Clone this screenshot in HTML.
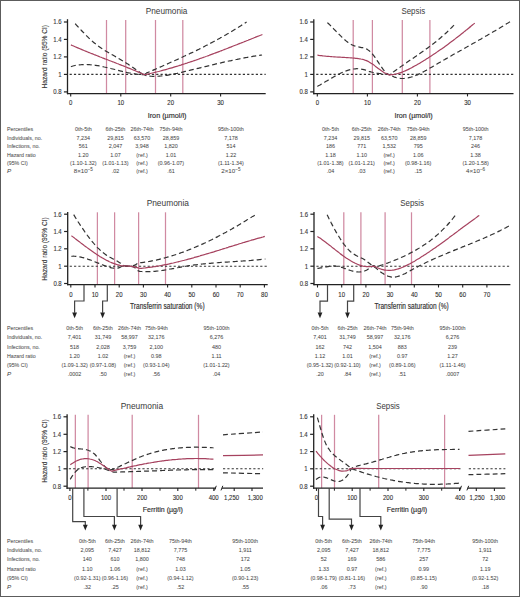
<!DOCTYPE html>
<html><head><meta charset="utf-8"><style>
html,body{margin:0;padding:0;background:#fff;}
body{width:520px;height:597px;overflow:hidden;}
svg{display:block;font-family:"Liberation Sans", sans-serif;}
</style></head><body>
<svg width="520" height="597" viewBox="0 0 520 597">
<rect x="0" y="0" width="520" height="597" fill="#fff"/>
<line x1="106.50" y1="20.00" x2="106.50" y2="93.60" stroke="#d08aa2" stroke-width="1.25"/>
<line x1="125.70" y1="20.00" x2="125.70" y2="93.60" stroke="#d08aa2" stroke-width="1.25"/>
<line x1="155.50" y1="20.00" x2="155.50" y2="93.60" stroke="#d08aa2" stroke-width="1.25"/>
<line x1="182.80" y1="20.00" x2="182.80" y2="93.60" stroke="#d08aa2" stroke-width="1.25"/>
<line x1="69.60" y1="74.40" x2="265.70" y2="74.40" stroke="#333" stroke-width="1.10" stroke-dasharray="2.2 2.13"/>
<path d="M75.2,23.7 C75.5,24.1 76.6,25.2 77.3,26.0 C78.0,26.8 78.7,27.5 79.4,28.3 C80.1,29.0 80.8,29.8 81.5,30.5 C82.2,31.3 82.9,32.0 83.6,32.7 C84.3,33.4 85.0,34.2 85.7,34.9 C86.4,35.6 87.0,36.3 87.7,36.9 C88.4,37.6 89.1,38.3 89.8,38.9 C90.5,39.6 91.2,40.2 91.9,40.9 C92.6,41.5 93.3,42.1 94.0,42.7 C94.7,43.3 95.4,43.8 96.1,44.4 C96.8,45.0 97.5,45.5 98.2,46.0 C98.9,46.5 99.6,47.0 100.3,47.5 C101.0,48.0 101.7,48.4 102.4,48.9 C103.1,49.4 103.8,49.8 104.5,50.2 C105.2,50.7 105.9,51.1 106.6,51.5 C107.3,51.9 108.0,52.3 108.7,52.7 C109.4,53.1 110.0,53.5 110.7,53.9 C111.4,54.3 112.1,54.7 112.8,55.1 C113.5,55.5 114.2,55.9 114.9,56.3 C115.6,56.7 116.3,57.1 117.0,57.5 C117.7,57.9 118.4,58.3 119.1,58.7 C119.8,59.1 120.5,59.5 121.2,59.9 C121.9,60.4 122.6,60.8 123.3,61.2 C124.0,61.6 124.7,62.1 125.4,62.5 C126.1,62.9 126.8,63.4 127.5,63.8 C128.2,64.3 128.9,64.7 129.6,65.2 C130.3,65.6 131.0,66.1 131.7,66.6 C132.4,67.1 133.0,67.5 133.7,68.0 C134.4,68.5 135.1,69.0 135.8,69.5 C136.5,70.0 137.2,70.4 137.9,70.9 C138.6,71.4 139.3,71.9 140.0,72.4 C140.7,72.8 141.4,73.3 142.1,73.8 C142.8,74.2 143.5,75.2 144.2,75.1 C144.9,75.0 145.6,73.6 146.2,73.2 C146.9,72.7 147.6,72.6 148.3,72.3 C149.0,72.0 149.7,71.7 150.3,71.4 C151.0,71.1 151.7,70.8 152.4,70.5 C153.1,70.2 153.8,69.9 154.4,69.6 C155.1,69.3 155.8,69.0 156.5,68.7 C157.2,68.4 157.9,68.1 158.5,67.8 C159.2,67.5 159.9,67.2 160.6,66.9 C161.3,66.6 161.9,66.3 162.6,66.0 C163.3,65.7 164.0,65.4 164.7,65.1 C165.4,64.8 166.0,64.5 166.7,64.2 C167.4,63.9 168.1,63.6 168.8,63.3 C169.5,63.0 170.1,62.7 170.8,62.3 C171.5,62.0 172.2,61.7 172.9,61.4 C173.6,61.1 174.2,60.8 174.9,60.5 C175.6,60.2 176.3,59.9 177.0,59.6 C177.7,59.3 178.3,59.0 179.0,58.6 C179.7,58.3 180.4,58.0 181.1,57.7 C181.7,57.4 182.4,57.1 183.1,56.8 C183.8,56.4 184.5,56.1 185.2,55.8 C185.8,55.5 186.5,55.2 187.2,54.9 C187.9,54.5 188.6,54.2 189.3,53.9 C189.9,53.6 190.6,53.2 191.3,52.9 C192.0,52.6 192.7,52.3 193.4,51.9 C194.0,51.6 194.7,51.3 195.4,50.9 C196.1,50.6 196.8,50.3 197.4,49.9 C198.1,49.6 198.8,49.3 199.5,48.9 C200.2,48.6 200.9,48.2 201.5,47.9 C202.2,47.6 202.9,47.2 203.6,46.9 C204.3,46.5 205.0,46.2 205.6,45.8 C206.3,45.5 207.0,45.1 207.7,44.8 C208.4,44.4 209.1,44.1 209.7,43.7 C210.4,43.3 211.1,43.0 211.8,42.6 C212.5,42.3 213.1,41.9 213.8,41.5 C214.5,41.2 215.2,40.8 215.9,40.4 C216.6,40.1 217.2,39.7 217.9,39.3 C218.6,38.9 219.3,38.6 220.0,38.2 C220.7,37.8 221.3,37.4 222.0,37.0 C222.7,36.6 223.4,36.3 224.1,35.9 C224.8,35.5 225.4,35.1 226.1,34.7 C226.8,34.3 227.5,33.9 228.2,33.5 C228.9,33.1 229.5,32.7 230.2,32.3 C230.9,31.9 231.6,31.5 232.3,31.1 C232.9,30.6 233.6,30.2 234.3,29.8 C235.0,29.4 235.7,29.0 236.4,28.6 C237.0,28.1 237.7,27.7 238.4,27.3 C239.1,26.8 239.8,26.4 240.5,26.0 C241.1,25.5 241.8,25.1 242.5,24.7 C243.2,24.2 243.9,23.8 244.6,23.3 C245.2,22.9 246.3,22.2 246.6,22.0" fill="none" stroke="#333" stroke-width="1.20" stroke-dasharray="5.0 3.0"/>
<path d="M70.9,66.6 C71.2,66.5 72.3,66.2 73.0,66.0 C73.7,65.9 74.4,65.7 75.1,65.5 C75.8,65.4 76.5,65.3 77.2,65.2 C77.9,65.1 78.6,65.0 79.3,64.9 C80.0,64.8 80.7,64.7 81.4,64.7 C82.1,64.6 82.8,64.6 83.5,64.6 C84.2,64.5 84.9,64.5 85.6,64.5 C86.3,64.5 87.0,64.5 87.7,64.6 C88.4,64.6 89.1,64.6 89.7,64.7 C90.4,64.7 91.1,64.8 91.8,64.9 C92.5,64.9 93.2,65.0 93.9,65.1 C94.6,65.2 95.3,65.3 96.0,65.4 C96.7,65.5 97.4,65.6 98.1,65.7 C98.8,65.8 99.5,66.0 100.2,66.1 C100.9,66.2 101.6,66.4 102.3,66.5 C103.0,66.7 103.7,66.8 104.4,67.0 C105.1,67.1 105.8,67.3 106.5,67.5 C107.2,67.6 107.9,67.8 108.6,68.0 C109.3,68.1 110.0,68.3 110.7,68.5 C111.4,68.6 112.1,68.8 112.8,69.0 C113.5,69.2 114.2,69.4 114.9,69.5 C115.6,69.7 116.3,69.9 117.0,70.1 C117.7,70.2 118.4,70.4 119.1,70.6 C119.8,70.8 120.5,70.9 121.2,71.1 C121.9,71.3 122.6,71.5 123.3,71.6 C124.0,71.8 124.7,72.0 125.4,72.1 C126.0,72.3 126.7,72.4 127.4,72.6 C128.1,72.7 128.8,72.9 129.5,73.0 C130.2,73.1 130.9,73.3 131.6,73.4 C132.3,73.5 133.0,73.6 133.7,73.7 C134.4,73.8 135.1,73.9 135.8,74.0 C136.5,74.1 137.2,74.2 137.9,74.3 C138.6,74.4 139.3,74.4 140.0,74.5 C140.7,74.5 141.4,74.6 142.1,74.6 C142.8,74.6 143.5,74.5 144.2,74.7 C144.9,74.8 145.6,75.5 146.3,75.7 C147.0,75.9 147.6,75.9 148.3,76.0 C149.0,76.1 149.7,76.1 150.4,76.2 C151.1,76.2 151.8,76.3 152.5,76.3 C153.2,76.3 153.8,76.3 154.5,76.3 C155.2,76.3 155.9,76.3 156.6,76.3 C157.3,76.3 158.0,76.2 158.7,76.2 C159.4,76.1 160.0,76.1 160.7,76.0 C161.4,76.0 162.1,75.9 162.8,75.8 C163.5,75.8 164.2,75.7 164.9,75.6 C165.6,75.5 166.2,75.4 166.9,75.3 C167.6,75.2 168.3,75.1 169.0,74.9 C169.7,74.8 170.4,74.7 171.1,74.6 C171.8,74.4 172.4,74.3 173.1,74.1 C173.8,74.0 174.5,73.9 175.2,73.7 C175.9,73.6 176.6,73.4 177.3,73.3 C178.0,73.1 178.6,72.9 179.3,72.8 C180.0,72.6 180.7,72.5 181.4,72.3 C182.1,72.1 182.8,72.0 183.5,71.8 C184.2,71.7 184.8,71.5 185.5,71.3 C186.2,71.2 186.9,71.0 187.6,70.8 C188.3,70.7 189.0,70.5 189.7,70.3 C190.4,70.2 191.0,70.0 191.7,69.8 C192.4,69.7 193.1,69.5 193.8,69.3 C194.5,69.2 195.2,69.0 195.9,68.8 C196.6,68.7 197.2,68.5 197.9,68.3 C198.6,68.1 199.3,68.0 200.0,67.8 C200.7,67.6 201.4,67.5 202.1,67.3 C202.8,67.1 203.4,67.0 204.1,66.8 C204.8,66.6 205.5,66.5 206.2,66.3 C206.9,66.1 207.6,66.0 208.3,65.8 C209.0,65.6 209.6,65.5 210.3,65.3 C211.0,65.1 211.7,65.0 212.4,64.8 C213.1,64.7 213.8,64.5 214.5,64.3 C215.2,64.2 215.8,64.0 216.5,63.8 C217.2,63.7 217.9,63.5 218.6,63.4 C219.3,63.2 220.0,63.0 220.7,62.9 C221.4,62.7 222.0,62.6 222.7,62.4 C223.4,62.2 224.1,62.1 224.8,61.9 C225.5,61.8 226.2,61.6 226.9,61.5 C227.6,61.3 228.2,61.2 228.9,61.0 C229.6,60.9 230.3,60.7 231.0,60.6 C231.7,60.4 232.4,60.3 233.1,60.1 C233.8,60.0 234.4,59.8 235.1,59.7 C235.8,59.6 236.5,59.4 237.2,59.3 C237.9,59.1 238.6,59.0 239.3,58.9 C240.0,58.7 240.6,58.6 241.3,58.5 C242.0,58.3 242.7,58.2 243.4,58.1 C244.1,57.9 244.8,57.8 245.5,57.7 C246.2,57.6 246.8,57.4 247.5,57.3 C248.2,57.2 248.9,57.1 249.6,56.9 C250.3,56.8 251.0,56.7 251.7,56.6 C252.4,56.5 253.0,56.4 253.7,56.2 C254.4,56.1 255.1,56.0 255.8,55.9 C256.5,55.8 257.2,55.7 257.9,55.6 C258.6,55.5 259.2,55.4 259.9,55.3 C260.6,55.2 261.7,55.1 262.0,55.0" fill="none" stroke="#333" stroke-width="1.20" stroke-dasharray="5.0 3.0"/>
<path d="M70.9,44.9 C71.2,45.0 72.3,45.5 73.0,45.8 C73.7,46.1 74.4,46.4 75.1,46.7 C75.8,47.0 76.5,47.3 77.2,47.6 C77.9,47.9 78.6,48.2 79.3,48.5 C80.0,48.8 80.7,49.1 81.4,49.4 C82.1,49.7 82.8,50.0 83.5,50.3 C84.2,50.6 84.9,50.8 85.6,51.1 C86.3,51.4 87.0,51.7 87.7,52.0 C88.4,52.3 89.1,52.5 89.7,52.8 C90.4,53.1 91.1,53.4 91.8,53.7 C92.5,53.9 93.2,54.2 93.9,54.5 C94.6,54.8 95.3,55.0 96.0,55.3 C96.7,55.6 97.4,55.9 98.1,56.1 C98.8,56.4 99.5,56.7 100.2,57.0 C100.9,57.2 101.6,57.5 102.3,57.8 C103.0,58.0 103.7,58.3 104.4,58.6 C105.1,58.9 105.8,59.1 106.5,59.4 C107.2,59.7 107.9,59.9 108.6,60.2 C109.3,60.5 110.0,60.8 110.7,61.0 C111.4,61.3 112.1,61.6 112.8,61.8 C113.5,62.1 114.2,62.4 114.9,62.6 C115.6,62.9 116.3,63.2 117.0,63.5 C117.7,63.7 118.4,64.0 119.1,64.3 C119.8,64.5 120.5,64.8 121.2,65.1 C121.9,65.4 122.6,65.6 123.3,65.9 C124.0,66.2 124.7,66.5 125.4,66.8 C126.0,67.0 126.7,67.3 127.4,67.6 C128.1,67.9 128.8,68.2 129.5,68.4 C130.2,68.7 130.9,69.0 131.6,69.3 C132.3,69.6 133.0,69.9 133.7,70.2 C134.4,70.4 135.1,70.7 135.8,71.0 C136.5,71.3 137.2,71.6 137.9,71.9 C138.6,72.2 139.3,72.5 140.0,72.8 C140.7,73.1 141.4,73.4 142.1,73.7 C142.8,74.0 143.5,74.5 144.2,74.6 C144.9,74.7 145.6,74.5 146.2,74.4 C146.9,74.3 147.6,74.1 148.3,74.0 C149.0,73.8 149.6,73.7 150.3,73.5 C151.0,73.4 151.7,73.2 152.4,73.0 C153.0,72.9 153.7,72.7 154.4,72.5 C155.1,72.4 155.7,72.2 156.4,72.0 C157.1,71.9 157.8,71.7 158.5,71.5 C159.1,71.3 159.8,71.2 160.5,71.0 C161.2,70.8 161.9,70.6 162.5,70.4 C163.2,70.3 163.9,70.1 164.6,69.9 C165.3,69.7 165.9,69.5 166.6,69.3 C167.3,69.1 168.0,68.9 168.7,68.7 C169.3,68.6 170.0,68.4 170.7,68.2 C171.4,68.0 172.1,67.8 172.7,67.6 C173.4,67.4 174.1,67.2 174.8,66.9 C175.4,66.7 176.1,66.5 176.8,66.3 C177.5,66.1 178.2,65.9 178.8,65.7 C179.5,65.5 180.2,65.3 180.9,65.1 C181.6,64.8 182.2,64.6 182.9,64.4 C183.6,64.2 184.3,64.0 185.0,63.7 C185.6,63.5 186.3,63.3 187.0,63.1 C187.7,62.8 188.4,62.6 189.0,62.4 C189.7,62.2 190.4,61.9 191.1,61.7 C191.8,61.5 192.4,61.2 193.1,61.0 C193.8,60.8 194.5,60.5 195.1,60.3 C195.8,60.1 196.5,59.8 197.2,59.6 C197.9,59.4 198.5,59.1 199.2,58.9 C199.9,58.6 200.6,58.4 201.3,58.2 C201.9,57.9 202.6,57.7 203.3,57.4 C204.0,57.2 204.7,56.9 205.3,56.7 C206.0,56.4 206.7,56.2 207.4,56.0 C208.1,55.7 208.7,55.5 209.4,55.2 C210.1,55.0 210.8,54.7 211.5,54.4 C212.1,54.2 212.8,53.9 213.5,53.7 C214.2,53.4 214.8,53.2 215.5,52.9 C216.2,52.7 216.9,52.4 217.6,52.1 C218.2,51.9 218.9,51.6 219.6,51.4 C220.3,51.1 221.0,50.9 221.6,50.6 C222.3,50.3 223.0,50.1 223.7,49.8 C224.4,49.5 225.0,49.3 225.7,49.0 C226.4,48.8 227.1,48.5 227.8,48.2 C228.4,48.0 229.1,47.7 229.8,47.4 C230.5,47.2 231.2,46.9 231.8,46.6 C232.5,46.4 233.2,46.1 233.9,45.8 C234.5,45.6 235.2,45.3 235.9,45.0 C236.6,44.8 237.3,44.5 237.9,44.2 C238.6,44.0 239.3,43.7 240.0,43.4 C240.7,43.1 241.3,42.9 242.0,42.6 C242.7,42.3 243.4,42.1 244.1,41.8 C244.7,41.5 245.4,41.3 246.1,41.0 C246.8,40.7 247.5,40.4 248.1,40.2 C248.8,39.9 249.5,39.6 250.2,39.4 C250.9,39.1 251.5,38.8 252.2,38.5 C252.9,38.3 253.6,38.0 254.2,37.7 C254.9,37.5 255.6,37.2 256.3,36.9 C257.0,36.7 257.6,36.4 258.3,36.1 C259.0,35.8 259.7,35.6 260.4,35.3 C261.0,35.0 262.1,34.6 262.4,34.5" fill="none" stroke="#a6425f" stroke-width="1.20" stroke-linejoin="round"/>
<line x1="67.50" y1="19.20" x2="67.50" y2="94.20" stroke="#222" stroke-width="1.30"/>
<line x1="63.90" y1="22.00" x2="67.50" y2="22.00" stroke="#222" stroke-width="1.20"/>
<text x="61.50" y="24.35" font-size="6.80" text-anchor="end" fill="#3a3a3a" textLength="8.32" lengthAdjust="spacingAndGlyphs" stroke="#333" stroke-width="0.12">1.6</text>
<line x1="63.90" y1="39.40" x2="67.50" y2="39.40" stroke="#222" stroke-width="1.20"/>
<text x="61.50" y="41.75" font-size="6.80" text-anchor="end" fill="#3a3a3a" textLength="8.32" lengthAdjust="spacingAndGlyphs" stroke="#333" stroke-width="0.12">1.4</text>
<line x1="63.90" y1="56.90" x2="67.50" y2="56.90" stroke="#222" stroke-width="1.20"/>
<text x="61.50" y="59.25" font-size="6.80" text-anchor="end" fill="#3a3a3a" textLength="8.32" lengthAdjust="spacingAndGlyphs" stroke="#333" stroke-width="0.12">1.2</text>
<line x1="63.90" y1="74.40" x2="67.50" y2="74.40" stroke="#222" stroke-width="1.20"/>
<text x="61.50" y="76.75" font-size="6.80" text-anchor="end" fill="#3a3a3a" textLength="3.33" lengthAdjust="spacingAndGlyphs" stroke="#333" stroke-width="0.12">1</text>
<line x1="63.90" y1="91.90" x2="67.50" y2="91.90" stroke="#222" stroke-width="1.20"/>
<text x="61.50" y="94.25" font-size="6.80" text-anchor="end" fill="#3a3a3a" textLength="8.32" lengthAdjust="spacingAndGlyphs" stroke="#333" stroke-width="0.12">0.8</text>
<line x1="66.90" y1="93.60" x2="265.70" y2="93.60" stroke="#222" stroke-width="1.30"/>
<line x1="70.70" y1="93.60" x2="70.70" y2="96.40" stroke="#222" stroke-width="1.10"/>
<text x="70.70" y="104.90" font-size="6.90" text-anchor="middle" fill="#2a2a2a" textLength="3.34" lengthAdjust="spacingAndGlyphs" stroke="#444" stroke-width="0.12">0</text>
<line x1="120.80" y1="93.60" x2="120.80" y2="96.40" stroke="#222" stroke-width="1.10"/>
<text x="120.80" y="104.90" font-size="6.90" text-anchor="middle" fill="#2a2a2a" textLength="6.68" lengthAdjust="spacingAndGlyphs" stroke="#444" stroke-width="0.12">10</text>
<line x1="170.70" y1="93.60" x2="170.70" y2="96.40" stroke="#222" stroke-width="1.10"/>
<text x="170.70" y="104.90" font-size="6.90" text-anchor="middle" fill="#2a2a2a" textLength="6.68" lengthAdjust="spacingAndGlyphs" stroke="#444" stroke-width="0.12">20</text>
<line x1="220.60" y1="93.60" x2="220.60" y2="96.40" stroke="#222" stroke-width="1.10"/>
<text x="220.60" y="104.90" font-size="6.90" text-anchor="middle" fill="#2a2a2a" textLength="6.68" lengthAdjust="spacingAndGlyphs" stroke="#444" stroke-width="0.12">30</text>
<text x="166.60" y="13.50" font-size="8.80" text-anchor="middle" fill="#3a3a3a" textLength="41.70" lengthAdjust="spacingAndGlyphs">Pneumonia</text>
<text x="167.10" y="117.70" font-size="7.70" text-anchor="middle" fill="#2a2a2a" textLength="38.80" lengthAdjust="spacingAndGlyphs" stroke="#444" stroke-width="0.18">Iron (&#181;mol/l)</text>
<text x="0" y="0" font-size="8.0" text-anchor="middle" fill="#3a3a3a" stroke="#333" stroke-width="0.12" textLength="63.4" lengthAdjust="spacingAndGlyphs" transform="translate(46.80,56.70) rotate(-90)">Hazard ratio (95% CI)</text>
<line x1="353.20" y1="20.00" x2="353.20" y2="93.60" stroke="#d08aa2" stroke-width="1.25"/>
<line x1="372.40" y1="20.00" x2="372.40" y2="93.60" stroke="#d08aa2" stroke-width="1.25"/>
<line x1="402.30" y1="20.00" x2="402.30" y2="93.60" stroke="#d08aa2" stroke-width="1.25"/>
<line x1="429.90" y1="20.00" x2="429.90" y2="93.60" stroke="#d08aa2" stroke-width="1.25"/>
<line x1="316.20" y1="74.40" x2="513.80" y2="74.40" stroke="#333" stroke-width="1.10" stroke-dasharray="2.2 2.13"/>
<path d="M327.4,22.6 C327.7,22.9 328.8,23.9 329.5,24.6 C330.2,25.3 330.9,25.9 331.6,26.7 C332.2,27.4 332.9,28.1 333.6,28.8 C334.3,29.5 335.0,30.2 335.7,30.9 C336.4,31.7 337.1,32.4 337.8,33.1 C338.5,33.8 339.2,34.5 339.9,35.2 C340.6,35.9 341.2,36.5 341.9,37.2 C342.6,37.9 343.3,38.5 344.0,39.1 C344.7,39.7 345.4,40.3 346.1,40.9 C346.8,41.4 347.5,42.0 348.2,42.5 C348.9,43.0 349.6,43.4 350.2,43.9 C350.9,44.3 351.6,44.7 352.3,45.0 C353.0,45.3 353.7,45.6 354.4,45.9 C355.1,46.1 355.8,46.3 356.5,46.5 C357.2,46.7 357.9,46.8 358.5,46.9 C359.2,47.1 359.9,47.2 360.6,47.3 C361.3,47.5 362.0,47.6 362.7,47.7 C363.4,47.9 364.1,48.0 364.8,48.3 C365.5,48.5 366.2,48.8 366.9,49.1 C367.5,49.5 368.2,49.9 368.9,50.5 C369.6,51.0 370.3,51.7 371.0,52.4 C371.7,53.1 372.4,53.9 373.1,54.8 C373.8,55.7 374.5,56.6 375.2,57.6 C375.9,58.6 376.5,59.6 377.2,60.6 C377.9,61.7 378.6,62.7 379.3,63.8 C380.0,64.8 380.7,65.9 381.4,66.9 C382.1,67.9 382.8,68.9 383.5,69.8 C384.2,70.7 384.9,71.5 385.5,72.2 C386.2,72.9 386.9,73.6 387.6,74.0 C388.3,74.4 389.0,75.0 389.7,74.8 C390.4,74.7 391.1,73.6 391.8,73.1 C392.5,72.5 393.2,72.0 394.0,71.5 C394.7,71.0 395.4,70.5 396.1,70.0 C396.8,69.5 397.5,68.9 398.2,68.4 C398.9,67.9 399.6,67.4 400.3,67.0 C401.0,66.5 401.7,66.0 402.5,65.5 C403.2,65.0 403.9,64.5 404.6,64.0 C405.3,63.5 406.0,63.0 406.7,62.6 C407.4,62.1 408.1,61.6 408.8,61.1 C409.5,60.6 410.2,60.1 411.0,59.7 C411.7,59.2 412.4,58.7 413.1,58.2 C413.8,57.7 414.5,57.3 415.2,56.8 C415.9,56.3 416.6,55.8 417.3,55.3 C418.0,54.8 418.8,54.3 419.5,53.8 C420.2,53.3 420.9,52.8 421.6,52.3 C422.3,51.8 423.0,51.3 423.7,50.8 C424.4,50.3 425.1,49.8 425.8,49.3 C426.5,48.8 427.3,48.3 428.0,47.7 C428.7,47.2 429.4,46.7 430.1,46.2 C430.8,45.6 431.5,45.1 432.2,44.5 C432.9,44.0 433.6,43.4 434.3,42.9 C435.1,42.3 435.8,41.8 436.5,41.2 C437.2,40.6 437.9,40.0 438.6,39.4 C439.3,38.9 440.0,38.3 440.7,37.7 C441.4,37.1 442.1,36.4 442.8,35.8 C443.6,35.2 444.3,34.6 445.0,33.9 C445.7,33.3 446.4,32.6 447.1,32.0 C447.8,31.3 448.5,30.6 449.2,29.9 C449.9,29.3 450.6,28.6 451.3,27.9 C452.1,27.2 452.8,26.4 453.5,25.7 C454.2,25.0 455.2,23.9 455.6,23.5" fill="none" stroke="#333" stroke-width="1.20" stroke-dasharray="5.0 3.0"/>
<path d="M317.4,86.4 C317.7,86.2 318.8,85.6 319.5,85.3 C320.2,84.9 320.8,84.5 321.5,84.1 C322.2,83.7 322.9,83.3 323.6,82.9 C324.3,82.4 325.0,82.0 325.7,81.6 C326.4,81.2 327.0,80.8 327.7,80.4 C328.4,80.0 329.1,79.6 329.8,79.1 C330.5,78.7 331.2,78.3 331.9,77.9 C332.5,77.5 333.2,77.1 333.9,76.7 C334.6,76.4 335.3,76.0 336.0,75.6 C336.7,75.2 337.4,74.9 338.1,74.5 C338.7,74.1 339.4,73.8 340.1,73.5 C340.8,73.1 341.5,72.8 342.2,72.5 C342.9,72.2 343.6,71.9 344.3,71.6 C344.9,71.3 345.6,71.1 346.3,70.8 C347.0,70.6 347.7,70.4 348.4,70.2 C349.1,70.0 349.8,69.8 350.5,69.6 C351.1,69.4 351.8,69.3 352.5,69.2 C353.2,69.0 353.9,68.9 354.6,68.9 C355.3,68.8 356.0,68.8 356.6,68.7 C357.3,68.7 358.0,68.7 358.7,68.8 C359.4,68.8 360.1,68.9 360.8,69.0 C361.5,69.1 362.2,69.2 362.8,69.3 C363.5,69.5 364.2,69.7 364.9,69.9 C365.6,70.1 366.3,70.3 367.0,70.6 C367.7,70.8 368.4,71.1 369.0,71.3 C369.7,71.5 370.4,71.8 371.1,72.0 C371.8,72.2 372.5,72.4 373.2,72.5 C373.9,72.7 374.6,72.8 375.2,73.0 C375.9,73.1 376.6,73.2 377.3,73.3 C378.0,73.4 378.7,73.4 379.4,73.5 C380.1,73.6 380.7,73.6 381.4,73.7 C382.1,73.7 382.8,73.8 383.5,73.8 C384.2,73.9 384.9,73.9 385.6,74.0 C386.3,74.1 386.9,74.2 387.6,74.2 C388.3,74.3 389.0,74.3 389.7,74.6 C390.4,74.8 391.1,75.4 391.7,75.8 C392.4,76.2 393.1,76.5 393.8,76.8 C394.5,77.0 395.1,77.3 395.8,77.5 C396.5,77.7 397.2,77.9 397.9,78.0 C398.5,78.2 399.2,78.3 399.9,78.3 C400.6,78.4 401.3,78.5 401.9,78.5 C402.6,78.5 403.3,78.5 404.0,78.5 C404.7,78.4 405.3,78.3 406.0,78.3 C406.7,78.2 407.4,78.0 408.1,77.9 C408.7,77.8 409.4,77.6 410.1,77.4 C410.8,77.3 411.4,77.0 412.1,76.8 C412.8,76.6 413.5,76.4 414.2,76.1 C414.8,75.9 415.5,75.6 416.2,75.3 C416.9,75.0 417.6,74.7 418.2,74.4 C418.9,74.1 419.6,73.8 420.3,73.4 C421.0,73.1 421.6,72.7 422.3,72.4 C423.0,72.0 423.7,71.7 424.4,71.3 C425.0,70.9 425.7,70.6 426.4,70.2 C427.1,69.8 427.8,69.4 428.4,69.0 C429.1,68.6 429.8,68.2 430.5,67.8 C431.2,67.5 431.8,67.1 432.5,66.7 C433.2,66.3 433.9,65.9 434.6,65.5 C435.2,65.1 435.9,64.7 436.6,64.3 C437.3,63.9 438.0,63.5 438.6,63.1 C439.3,62.7 440.0,62.3 440.7,61.9 C441.4,61.5 442.0,61.1 442.7,60.7 C443.4,60.3 444.1,59.9 444.8,59.5 C445.4,59.1 446.1,58.7 446.8,58.4 C447.5,58.0 448.2,57.6 448.8,57.2 C449.5,56.8 450.2,56.4 450.9,56.0 C451.5,55.6 452.2,55.2 452.9,54.8 C453.6,54.5 454.3,54.1 454.9,53.7 C455.6,53.3 456.3,52.9 457.0,52.5 C457.7,52.1 458.3,51.8 459.0,51.4 C459.7,51.0 460.4,50.6 461.1,50.2 C461.7,49.8 462.4,49.4 463.1,49.1 C463.8,48.7 464.5,48.3 465.1,47.9 C465.8,47.5 466.5,47.1 467.2,46.8 C467.9,46.4 468.5,46.0 469.2,45.6 C469.9,45.2 470.6,44.8 471.3,44.5 C471.9,44.1 472.6,43.7 473.3,43.3 C474.0,42.9 474.7,42.5 475.3,42.2 C476.0,41.8 476.7,41.4 477.4,41.0 C478.1,40.6 478.7,40.2 479.4,39.8 C480.1,39.5 480.8,39.1 481.5,38.7 C482.1,38.3 482.8,37.9 483.5,37.5 C484.2,37.1 484.9,36.7 485.5,36.3 C486.2,35.9 486.9,35.6 487.6,35.2 C488.3,34.8 488.9,34.4 489.6,34.0 C490.3,33.6 491.0,33.2 491.6,32.8 C492.3,32.4 493.0,32.0 493.7,31.6 C494.4,31.2 495.0,30.8 495.7,30.4 C496.4,30.0 497.1,29.6 497.8,29.2 C498.4,28.8 499.1,28.4 499.8,27.9 C500.5,27.5 501.2,27.1 501.8,26.7 C502.5,26.3 503.2,25.9 503.9,25.5 C504.6,25.1 505.2,24.6 505.9,24.2 C506.6,23.8 507.3,23.4 508.0,23.0 C508.6,22.5 509.7,21.9 510.0,21.7" fill="none" stroke="#333" stroke-width="1.20" stroke-dasharray="5.0 3.0"/>
<path d="M317.4,55.2 C317.7,55.2 318.8,55.4 319.5,55.5 C320.2,55.6 320.8,55.7 321.5,55.7 C322.2,55.8 322.9,55.9 323.6,56.0 C324.3,56.0 325.0,56.1 325.7,56.2 C326.4,56.2 327.0,56.3 327.7,56.4 C328.4,56.4 329.1,56.5 329.8,56.5 C330.5,56.6 331.2,56.6 331.9,56.7 C332.5,56.7 333.2,56.8 333.9,56.8 C334.6,56.9 335.3,56.9 336.0,57.0 C336.7,57.0 337.4,57.0 338.1,57.1 C338.7,57.1 339.4,57.2 340.1,57.2 C340.8,57.2 341.5,57.3 342.2,57.3 C342.9,57.4 343.6,57.4 344.3,57.4 C344.9,57.5 345.6,57.5 346.3,57.6 C347.0,57.6 347.7,57.6 348.4,57.7 C349.1,57.7 349.8,57.8 350.5,57.8 C351.1,57.9 351.8,57.9 352.5,58.0 C353.2,58.0 353.9,58.1 354.6,58.1 C355.3,58.2 356.0,58.3 356.6,58.3 C357.3,58.4 358.0,58.5 358.7,58.6 C359.4,58.7 360.1,58.8 360.8,59.0 C361.5,59.1 362.2,59.3 362.8,59.4 C363.5,59.6 364.2,59.8 364.9,60.1 C365.6,60.3 366.3,60.6 367.0,60.9 C367.7,61.2 368.4,61.6 369.0,61.9 C369.7,62.3 370.4,62.7 371.1,63.2 C371.8,63.6 372.5,64.1 373.2,64.6 C373.9,65.1 374.6,65.6 375.2,66.2 C375.9,66.7 376.6,67.2 377.3,67.7 C378.0,68.3 378.7,68.8 379.4,69.3 C380.1,69.8 380.7,70.3 381.4,70.8 C382.1,71.3 382.8,71.8 383.5,72.2 C384.2,72.6 384.9,73.0 385.6,73.3 C386.3,73.7 386.9,74.0 387.6,74.2 C388.3,74.5 389.0,74.7 389.7,74.8 C390.4,74.9 391.1,74.7 391.8,74.6 C392.5,74.6 393.2,74.5 393.9,74.4 C394.5,74.3 395.2,74.2 395.9,74.0 C396.6,73.9 397.3,73.7 398.0,73.5 C398.7,73.3 399.4,73.1 400.1,72.9 C400.8,72.7 401.5,72.4 402.2,72.1 C402.8,71.9 403.5,71.6 404.2,71.3 C404.9,71.0 405.6,70.7 406.3,70.4 C407.0,70.1 407.7,69.7 408.4,69.4 C409.1,69.0 409.8,68.7 410.5,68.3 C411.1,68.0 411.8,67.6 412.5,67.2 C413.2,66.8 413.9,66.5 414.6,66.1 C415.3,65.7 416.0,65.3 416.7,64.9 C417.4,64.5 418.1,64.1 418.8,63.7 C419.5,63.3 420.1,62.9 420.8,62.4 C421.5,62.0 422.2,61.6 422.9,61.2 C423.6,60.8 424.3,60.3 425.0,59.9 C425.7,59.5 426.4,59.0 427.1,58.6 C427.8,58.2 428.4,57.7 429.1,57.3 C429.8,56.8 430.5,56.4 431.2,55.9 C431.9,55.5 432.6,55.0 433.3,54.6 C434.0,54.1 434.7,53.6 435.4,53.2 C436.1,52.7 436.7,52.2 437.4,51.8 C438.1,51.3 438.8,50.8 439.5,50.3 C440.2,49.8 440.9,49.4 441.6,48.9 C442.3,48.4 443.0,47.9 443.7,47.4 C444.4,46.9 445.0,46.4 445.7,45.9 C446.4,45.4 447.1,44.9 447.8,44.4 C448.5,43.9 449.2,43.4 449.9,42.8 C450.6,42.3 451.3,41.8 452.0,41.3 C452.7,40.8 453.4,40.2 454.0,39.7 C454.7,39.2 455.4,38.7 456.1,38.1 C456.8,37.6 457.5,37.1 458.2,36.5 C458.9,36.0 459.6,35.4 460.3,34.9 C461.0,34.4 461.7,33.8 462.3,33.3 C463.0,32.7 463.7,32.2 464.4,31.6 C465.1,31.0 465.8,30.5 466.5,29.9 C467.2,29.4 467.9,28.8 468.6,28.2 C469.3,27.7 470.0,27.1 470.6,26.5 C471.3,26.0 472.0,25.4 472.7,24.8 C473.4,24.2 474.5,23.4 474.8,23.1" fill="none" stroke="#a6425f" stroke-width="1.20" stroke-linejoin="round"/>
<line x1="313.80" y1="19.20" x2="313.80" y2="94.20" stroke="#222" stroke-width="1.30"/>
<line x1="310.20" y1="22.00" x2="313.80" y2="22.00" stroke="#222" stroke-width="1.20"/>
<text x="307.80" y="24.35" font-size="6.80" text-anchor="end" fill="#3a3a3a" textLength="8.32" lengthAdjust="spacingAndGlyphs" stroke="#333" stroke-width="0.12">1.6</text>
<line x1="310.20" y1="39.40" x2="313.80" y2="39.40" stroke="#222" stroke-width="1.20"/>
<text x="307.80" y="41.75" font-size="6.80" text-anchor="end" fill="#3a3a3a" textLength="8.32" lengthAdjust="spacingAndGlyphs" stroke="#333" stroke-width="0.12">1.4</text>
<line x1="310.20" y1="56.90" x2="313.80" y2="56.90" stroke="#222" stroke-width="1.20"/>
<text x="307.80" y="59.25" font-size="6.80" text-anchor="end" fill="#3a3a3a" textLength="8.32" lengthAdjust="spacingAndGlyphs" stroke="#333" stroke-width="0.12">1.2</text>
<line x1="310.20" y1="74.40" x2="313.80" y2="74.40" stroke="#222" stroke-width="1.20"/>
<text x="307.80" y="76.75" font-size="6.80" text-anchor="end" fill="#3a3a3a" textLength="3.33" lengthAdjust="spacingAndGlyphs" stroke="#333" stroke-width="0.12">1</text>
<line x1="310.20" y1="91.90" x2="313.80" y2="91.90" stroke="#222" stroke-width="1.20"/>
<text x="307.80" y="94.25" font-size="6.80" text-anchor="end" fill="#3a3a3a" textLength="8.32" lengthAdjust="spacingAndGlyphs" stroke="#333" stroke-width="0.12">0.8</text>
<line x1="313.20" y1="93.60" x2="513.50" y2="93.60" stroke="#222" stroke-width="1.30"/>
<line x1="317.30" y1="93.60" x2="317.30" y2="96.40" stroke="#222" stroke-width="1.10"/>
<text x="317.30" y="104.90" font-size="6.90" text-anchor="middle" fill="#2a2a2a" textLength="3.34" lengthAdjust="spacingAndGlyphs" stroke="#444" stroke-width="0.12">0</text>
<line x1="367.40" y1="93.60" x2="367.40" y2="96.40" stroke="#222" stroke-width="1.10"/>
<text x="367.40" y="104.90" font-size="6.90" text-anchor="middle" fill="#2a2a2a" textLength="6.68" lengthAdjust="spacingAndGlyphs" stroke="#444" stroke-width="0.12">10</text>
<line x1="417.40" y1="93.60" x2="417.40" y2="96.40" stroke="#222" stroke-width="1.10"/>
<text x="417.40" y="104.90" font-size="6.90" text-anchor="middle" fill="#2a2a2a" textLength="6.68" lengthAdjust="spacingAndGlyphs" stroke="#444" stroke-width="0.12">20</text>
<line x1="467.50" y1="93.60" x2="467.50" y2="96.40" stroke="#222" stroke-width="1.10"/>
<text x="467.50" y="104.90" font-size="6.90" text-anchor="middle" fill="#2a2a2a" textLength="6.68" lengthAdjust="spacingAndGlyphs" stroke="#444" stroke-width="0.12">30</text>
<text x="413.30" y="13.50" font-size="8.80" text-anchor="middle" fill="#3a3a3a" textLength="23.70" lengthAdjust="spacingAndGlyphs">Sepsis</text>
<text x="413.60" y="117.60" font-size="7.70" text-anchor="middle" fill="#2a2a2a" textLength="38.30" lengthAdjust="spacingAndGlyphs" stroke="#444" stroke-width="0.18">Iron (&#181;mol/l)</text>
<line x1="97.40" y1="212.30" x2="97.40" y2="284.70" stroke="#d08aa2" stroke-width="1.25"/>
<line x1="114.60" y1="212.30" x2="114.60" y2="284.70" stroke="#d08aa2" stroke-width="1.25"/>
<line x1="138.60" y1="212.30" x2="138.60" y2="284.70" stroke="#d08aa2" stroke-width="1.25"/>
<line x1="165.50" y1="212.30" x2="165.50" y2="284.70" stroke="#d08aa2" stroke-width="1.25"/>
<line x1="69.70" y1="266.30" x2="267.70" y2="266.30" stroke="#333" stroke-width="1.10" stroke-dasharray="2.2 2.13"/>
<path d="M73.7,214.7 C74.1,215.3 75.1,217.0 75.8,218.2 C76.6,219.3 77.3,220.4 78.0,221.6 C78.7,222.7 79.4,223.8 80.1,224.9 C80.8,226.0 81.5,227.1 82.3,228.1 C83.0,229.2 83.7,230.2 84.4,231.2 C85.1,232.3 85.8,233.3 86.5,234.2 C87.2,235.2 88.0,236.2 88.7,237.1 C89.4,238.1 90.1,239.0 90.8,239.9 C91.5,240.8 92.2,241.7 93.0,242.5 C93.7,243.4 94.4,244.2 95.1,245.0 C95.8,245.8 96.5,246.5 97.2,247.3 C97.9,248.0 98.7,248.7 99.4,249.4 C100.1,250.1 100.8,250.7 101.5,251.4 C102.2,252.0 102.9,252.6 103.6,253.1 C104.4,253.7 105.1,254.2 105.8,254.7 C106.5,255.2 107.2,255.6 107.9,256.0 C108.6,256.5 109.4,256.9 110.1,257.3 C110.8,257.6 111.5,258.0 112.2,258.4 C112.9,258.8 113.6,259.1 114.3,259.5 C115.1,259.9 115.8,260.2 116.5,260.6 C117.2,261.0 117.9,261.5 118.6,261.9 C119.3,262.4 120.0,262.8 120.8,263.3 C121.5,263.9 122.1,264.6 122.9,265.0 C123.7,265.5 124.5,265.9 125.3,266.1 C126.1,266.3 127.0,266.3 127.8,266.3 C128.6,266.3 129.4,266.2 130.2,266.3 C131.0,266.4 131.8,266.4 132.6,266.7 C133.4,266.9 134.3,267.2 135.1,267.9 C135.9,268.5 136.8,269.9 137.5,270.5 C138.2,271.1 138.9,271.2 139.6,271.3 C140.3,271.5 140.9,271.5 141.6,271.5 C142.3,271.6 143.0,271.6 143.7,271.6 C144.4,271.7 145.1,271.7 145.8,271.7 C146.4,271.7 147.1,271.7 147.8,271.7 C148.5,271.7 149.2,271.7 149.9,271.6 C150.6,271.6 151.3,271.6 151.9,271.5 C152.6,271.5 153.3,271.4 154.0,271.4 C154.7,271.3 155.4,271.3 156.1,271.2 C156.8,271.1 157.4,271.0 158.1,271.0 C158.8,270.9 159.5,270.8 160.2,270.7 C160.9,270.6 161.6,270.5 162.3,270.4 C162.9,270.3 163.6,270.2 164.3,270.1 C165.0,270.0 165.7,269.9 166.4,269.7 C167.1,269.6 167.8,269.5 168.4,269.4 C169.1,269.3 169.8,269.1 170.5,269.0 C171.2,268.9 171.9,268.8 172.6,268.6 C173.3,268.5 173.9,268.4 174.6,268.2 C175.3,268.1 176.0,268.0 176.7,267.9 C177.4,267.7 178.1,267.6 178.8,267.5 C179.4,267.3 180.1,267.2 180.8,267.1 C181.5,267.0 182.2,266.8 182.9,266.7 C183.6,266.6 184.3,266.5 184.9,266.4 C185.6,266.2 186.3,266.1 187.0,266.0 C187.7,265.9 188.4,265.8 189.1,265.7 C189.8,265.6 190.4,265.5 191.1,265.4 C191.8,265.3 192.5,265.2 193.2,265.1 C193.9,265.0 194.6,264.9 195.3,264.8 C195.9,264.8 196.6,264.7 197.3,264.6 C198.0,264.5 198.7,264.4 199.4,264.4 C200.1,264.3 200.8,264.2 201.4,264.1 C202.1,264.0 202.8,264.0 203.5,263.9 C204.2,263.8 204.9,263.8 205.6,263.7 C206.3,263.6 207.0,263.6 207.6,263.5 C208.3,263.4 209.0,263.4 209.7,263.3 C210.4,263.3 211.1,263.2 211.8,263.1 C212.5,263.1 213.1,263.0 213.8,263.0 C214.5,262.9 215.2,262.9 215.9,262.8 C216.6,262.8 217.3,262.7 218.0,262.7 C218.6,262.6 219.3,262.6 220.0,262.5 C220.7,262.5 221.4,262.4 222.1,262.4 C222.8,262.3 223.5,262.3 224.1,262.2 C224.8,262.2 225.5,262.1 226.2,262.1 C226.9,262.1 227.6,262.0 228.3,262.0 C229.0,261.9 229.6,261.9 230.3,261.8 C231.0,261.8 231.7,261.7 232.4,261.7 C233.1,261.7 233.8,261.6 234.5,261.6 C235.1,261.5 235.8,261.5 236.5,261.4 C237.2,261.4 237.9,261.3 238.6,261.3 C239.3,261.3 240.0,261.2 240.6,261.2 C241.3,261.1 242.0,261.1 242.7,261.0 C243.4,261.0 244.1,260.9 244.8,260.9 C245.5,260.8 246.1,260.8 246.8,260.7 C247.5,260.7 248.2,260.6 248.9,260.6 C249.6,260.5 250.3,260.4 251.0,260.4 C251.6,260.3 252.3,260.3 253.0,260.2 C253.7,260.2 254.4,260.1 255.1,260.0 C255.8,260.0 256.5,259.9 257.1,259.8 C257.8,259.8 258.5,259.7 259.2,259.6 C259.9,259.6 260.6,259.5 261.3,259.4 C262.0,259.4 262.6,259.3 263.3,259.2 C264.0,259.1 265.1,259.0 265.4,259.0" fill="none" stroke="#333" stroke-width="1.20" stroke-dasharray="5.0 3.0"/>
<path d="M71.4,256.3 C71.8,256.3 72.8,256.2 73.5,256.2 C74.2,256.2 74.9,256.3 75.6,256.3 C76.3,256.4 77.0,256.5 77.8,256.5 C78.5,256.6 79.2,256.8 79.9,256.9 C80.6,257.0 81.3,257.2 82.0,257.4 C82.7,257.5 83.4,257.7 84.1,257.9 C84.8,258.1 85.5,258.3 86.2,258.6 C86.9,258.8 87.6,259.0 88.3,259.3 C89.0,259.5 89.7,259.8 90.5,260.0 C91.2,260.3 91.9,260.6 92.6,260.9 C93.3,261.1 94.0,261.4 94.7,261.7 C95.4,262.0 96.1,262.3 96.8,262.6 C97.5,262.8 98.2,263.1 98.9,263.4 C99.6,263.7 100.3,264.0 101.0,264.3 C101.7,264.6 102.4,264.8 103.2,265.1 C103.9,265.4 104.6,265.7 105.3,265.9 C106.0,266.2 106.7,266.4 107.4,266.7 C108.1,266.9 108.8,267.1 109.5,267.3 C110.2,267.5 110.9,267.7 111.6,267.9 C112.3,268.0 113.0,268.2 113.7,268.2 C114.4,268.3 115.1,268.3 115.9,268.3 C116.6,268.3 117.3,268.2 118.0,268.1 C118.7,267.9 119.4,267.7 120.1,267.4 C120.8,267.1 121.4,266.5 122.2,266.2 C123.0,266.0 123.9,265.9 124.8,265.9 C125.6,265.9 126.5,266.0 127.3,266.1 C128.2,266.1 129.0,266.2 129.8,266.2 C130.7,266.2 131.6,266.1 132.4,265.9 C133.2,265.7 134.1,265.5 134.9,265.1 C135.8,264.7 136.7,263.8 137.5,263.4 C138.3,263.0 138.9,263.0 139.6,262.8 C140.2,262.7 140.9,262.7 141.6,262.6 C142.3,262.5 143.0,262.4 143.7,262.3 C144.4,262.2 145.0,262.1 145.7,262.0 C146.4,261.9 147.1,261.8 147.8,261.7 C148.5,261.6 149.2,261.4 149.8,261.3 C150.5,261.2 151.2,261.1 151.9,260.9 C152.6,260.8 153.3,260.7 154.0,260.5 C154.6,260.4 155.3,260.2 156.0,260.1 C156.7,259.9 157.4,259.8 158.1,259.6 C158.8,259.4 159.5,259.3 160.1,259.1 C160.8,258.9 161.5,258.8 162.2,258.6 C162.9,258.4 163.6,258.2 164.3,258.1 C164.9,257.9 165.6,257.7 166.3,257.5 C167.0,257.3 167.7,257.1 168.4,256.9 C169.1,256.7 169.7,256.5 170.4,256.3 C171.1,256.1 171.8,255.9 172.5,255.7 C173.2,255.5 173.9,255.2 174.5,255.0 C175.2,254.8 175.9,254.6 176.6,254.3 C177.3,254.1 178.0,253.9 178.7,253.6 C179.3,253.4 180.0,253.2 180.7,252.9 C181.4,252.7 182.1,252.4 182.8,252.2 C183.5,251.9 184.1,251.7 184.8,251.4 C185.5,251.1 186.2,250.9 186.9,250.6 C187.6,250.4 188.3,250.1 188.9,249.8 C189.6,249.5 190.3,249.3 191.0,249.0 C191.7,248.7 192.4,248.4 193.1,248.1 C193.7,247.9 194.4,247.6 195.1,247.3 C195.8,247.0 196.5,246.7 197.2,246.4 C197.9,246.1 198.6,245.8 199.2,245.5 C199.9,245.2 200.6,244.9 201.3,244.6 C202.0,244.3 202.7,243.9 203.4,243.6 C204.0,243.3 204.7,243.0 205.4,242.7 C206.1,242.3 206.8,242.0 207.5,241.7 C208.2,241.4 208.8,241.0 209.5,240.7 C210.2,240.4 210.9,240.0 211.6,239.7 C212.3,239.3 213.0,239.0 213.6,238.7 C214.3,238.3 215.0,238.0 215.7,237.6 C216.4,237.3 217.1,236.9 217.8,236.6 C218.4,236.2 219.1,235.8 219.8,235.5 C220.5,235.1 221.2,234.8 221.9,234.4 C222.6,234.0 223.2,233.7 223.9,233.3 C224.6,232.9 225.3,232.5 226.0,232.2 C226.7,231.8 227.4,231.4 228.0,231.0 C228.7,230.7 229.4,230.3 230.1,229.9 C230.8,229.5 231.5,229.1 232.2,228.7 C232.8,228.3 233.5,227.9 234.2,227.6 C234.9,227.2 235.6,226.8 236.3,226.4 C237.0,226.0 237.7,225.6 238.3,225.2 C239.0,224.8 239.7,224.4 240.4,223.9 C241.1,223.5 241.8,223.1 242.5,222.7 C243.1,222.3 243.8,221.9 244.5,221.5 C245.2,221.1 245.9,220.7 246.6,220.2 C247.3,219.8 247.9,219.4 248.6,219.0 C249.3,218.6 250.0,218.1 250.7,217.7 C251.4,217.3 252.1,216.9 252.7,216.4 C253.4,216.0 254.5,215.3 254.8,215.1" fill="none" stroke="#333" stroke-width="1.20" stroke-dasharray="5.0 3.0"/>
<path d="M71.4,235.7 C71.8,236.0 72.8,236.8 73.5,237.3 C74.2,237.8 74.9,238.4 75.6,238.9 C76.3,239.4 77.0,240.0 77.7,240.5 C78.4,241.1 79.1,241.6 79.8,242.1 C80.5,242.7 81.2,243.2 81.9,243.7 C82.6,244.3 83.3,244.8 84.1,245.4 C84.8,245.9 85.5,246.4 86.2,246.9 C86.9,247.5 87.6,248.0 88.3,248.5 C89.0,249.0 89.7,249.5 90.4,250.0 C91.1,250.5 91.8,251.0 92.5,251.5 C93.2,252.0 93.9,252.5 94.6,253.0 C95.3,253.5 96.0,254.0 96.7,254.4 C97.4,254.9 98.1,255.3 98.8,255.8 C99.5,256.2 100.2,256.7 100.9,257.1 C101.6,257.5 102.3,257.9 103.0,258.3 C103.7,258.7 104.4,259.1 105.1,259.5 C105.8,259.9 106.5,260.3 107.2,260.6 C107.9,261.0 108.6,261.3 109.3,261.7 C110.1,262.0 110.8,262.3 111.5,262.6 C112.2,262.9 112.9,263.2 113.6,263.4 C114.3,263.7 115.0,264.0 115.7,264.2 C116.4,264.4 117.1,264.6 117.8,264.8 C118.5,265.0 119.2,265.2 119.9,265.4 C120.6,265.5 120.3,265.7 122.0,265.8 C123.7,265.9 127.2,265.8 130.0,266.2 C132.8,266.6 136.8,267.6 138.6,268.0 C140.4,268.4 140.0,268.4 140.6,268.4 C141.3,268.4 142.0,268.3 142.7,268.2 C143.3,268.1 144.0,268.0 144.7,268.0 C145.4,267.9 146.1,267.8 146.7,267.7 C147.4,267.6 148.1,267.5 148.8,267.5 C149.5,267.4 150.1,267.3 150.8,267.2 C151.5,267.1 152.2,267.0 152.8,266.9 C153.5,266.8 154.2,266.7 154.9,266.6 C155.6,266.5 156.2,266.3 156.9,266.2 C157.6,266.1 158.3,266.0 159.0,265.9 C159.6,265.8 160.3,265.6 161.0,265.5 C161.7,265.4 162.3,265.3 163.0,265.1 C163.7,265.0 164.4,264.9 165.1,264.7 C165.7,264.6 166.4,264.5 167.1,264.3 C167.8,264.2 168.5,264.0 169.1,263.9 C169.8,263.7 170.5,263.6 171.2,263.4 C171.8,263.3 172.5,263.1 173.2,263.0 C173.9,262.8 174.6,262.7 175.2,262.5 C175.9,262.4 176.6,262.2 177.3,262.0 C178.0,261.9 178.6,261.7 179.3,261.5 C180.0,261.4 180.7,261.2 181.3,261.0 C182.0,260.9 182.7,260.7 183.4,260.5 C184.1,260.3 184.7,260.2 185.4,260.0 C186.1,259.8 186.8,259.6 187.5,259.4 C188.1,259.3 188.8,259.1 189.5,258.9 C190.2,258.7 190.8,258.5 191.5,258.3 C192.2,258.2 192.9,258.0 193.6,257.8 C194.2,257.6 194.9,257.4 195.6,257.2 C196.3,257.0 197.0,256.8 197.6,256.6 C198.3,256.4 199.0,256.2 199.7,256.0 C200.3,255.8 201.0,255.6 201.7,255.4 C202.4,255.2 203.1,255.0 203.7,254.8 C204.4,254.6 205.1,254.4 205.8,254.2 C206.4,254.0 207.1,253.8 207.8,253.6 C208.5,253.4 209.2,253.2 209.8,253.0 C210.5,252.8 211.2,252.6 211.9,252.4 C212.6,252.2 213.2,252.0 213.9,251.8 C214.6,251.6 215.3,251.3 215.9,251.1 C216.6,250.9 217.3,250.7 218.0,250.5 C218.7,250.3 219.3,250.1 220.0,249.9 C220.7,249.7 221.4,249.5 222.1,249.2 C222.7,249.0 223.4,248.8 224.1,248.6 C224.8,248.4 225.4,248.2 226.1,248.0 C226.8,247.8 227.5,247.5 228.2,247.3 C228.8,247.1 229.5,246.9 230.2,246.7 C230.9,246.5 231.6,246.3 232.2,246.1 C232.9,245.9 233.6,245.6 234.3,245.4 C234.9,245.2 235.6,245.0 236.3,244.8 C237.0,244.6 237.7,244.4 238.3,244.2 C239.0,244.0 239.7,243.8 240.4,243.5 C241.1,243.3 241.7,243.1 242.4,242.9 C243.1,242.7 243.8,242.5 244.4,242.3 C245.1,242.1 245.8,241.9 246.5,241.7 C247.2,241.5 247.8,241.3 248.5,241.1 C249.2,240.9 249.9,240.7 250.6,240.5 C251.2,240.3 251.9,240.1 252.6,239.9 C253.3,239.7 253.9,239.5 254.6,239.3 C255.3,239.1 256.0,238.9 256.7,238.7 C257.3,238.5 258.0,238.3 258.7,238.1 C259.4,237.9 260.1,237.7 260.7,237.6 C261.4,237.4 262.1,237.2 262.8,237.0 C263.4,236.8 264.5,236.5 264.8,236.4" fill="none" stroke="#a6425f" stroke-width="1.20" stroke-linejoin="round"/>
<line x1="67.70" y1="211.90" x2="67.70" y2="285.30" stroke="#222" stroke-width="1.30"/>
<line x1="64.10" y1="214.20" x2="67.70" y2="214.20" stroke="#222" stroke-width="1.20"/>
<text x="61.70" y="216.55" font-size="6.80" text-anchor="end" fill="#3a3a3a" textLength="8.32" lengthAdjust="spacingAndGlyphs" stroke="#333" stroke-width="0.12">1.6</text>
<line x1="64.10" y1="231.50" x2="67.70" y2="231.50" stroke="#222" stroke-width="1.20"/>
<text x="61.70" y="233.85" font-size="6.80" text-anchor="end" fill="#3a3a3a" textLength="8.32" lengthAdjust="spacingAndGlyphs" stroke="#333" stroke-width="0.12">1.4</text>
<line x1="64.10" y1="248.80" x2="67.70" y2="248.80" stroke="#222" stroke-width="1.20"/>
<text x="61.70" y="251.15" font-size="6.80" text-anchor="end" fill="#3a3a3a" textLength="8.32" lengthAdjust="spacingAndGlyphs" stroke="#333" stroke-width="0.12">1.2</text>
<line x1="64.10" y1="266.20" x2="67.70" y2="266.20" stroke="#222" stroke-width="1.20"/>
<text x="61.70" y="268.55" font-size="6.80" text-anchor="end" fill="#3a3a3a" textLength="3.33" lengthAdjust="spacingAndGlyphs" stroke="#333" stroke-width="0.12">1</text>
<line x1="64.10" y1="283.50" x2="67.70" y2="283.50" stroke="#222" stroke-width="1.20"/>
<text x="61.70" y="285.85" font-size="6.80" text-anchor="end" fill="#3a3a3a" textLength="8.32" lengthAdjust="spacingAndGlyphs" stroke="#333" stroke-width="0.12">0.8</text>
<line x1="67.10" y1="284.70" x2="267.70" y2="284.70" stroke="#222" stroke-width="1.30"/>
<line x1="70.80" y1="284.70" x2="70.80" y2="287.50" stroke="#222" stroke-width="1.10"/>
<text x="70.80" y="296.50" font-size="6.90" text-anchor="middle" fill="#2a2a2a" textLength="3.34" lengthAdjust="spacingAndGlyphs" stroke="#444" stroke-width="0.12">0</text>
<line x1="95.00" y1="284.70" x2="95.00" y2="287.50" stroke="#222" stroke-width="1.10"/>
<text x="95.00" y="296.50" font-size="6.90" text-anchor="middle" fill="#2a2a2a" textLength="6.68" lengthAdjust="spacingAndGlyphs" stroke="#444" stroke-width="0.12">10</text>
<line x1="119.20" y1="284.70" x2="119.20" y2="287.50" stroke="#222" stroke-width="1.10"/>
<text x="119.20" y="296.50" font-size="6.90" text-anchor="middle" fill="#2a2a2a" textLength="6.68" lengthAdjust="spacingAndGlyphs" stroke="#444" stroke-width="0.12">20</text>
<line x1="143.40" y1="284.70" x2="143.40" y2="287.50" stroke="#222" stroke-width="1.10"/>
<text x="143.40" y="296.50" font-size="6.90" text-anchor="middle" fill="#2a2a2a" textLength="6.68" lengthAdjust="spacingAndGlyphs" stroke="#444" stroke-width="0.12">30</text>
<line x1="167.60" y1="284.70" x2="167.60" y2="287.50" stroke="#222" stroke-width="1.10"/>
<text x="167.60" y="296.50" font-size="6.90" text-anchor="middle" fill="#2a2a2a" textLength="6.68" lengthAdjust="spacingAndGlyphs" stroke="#444" stroke-width="0.12">40</text>
<line x1="191.80" y1="284.70" x2="191.80" y2="287.50" stroke="#222" stroke-width="1.10"/>
<text x="191.80" y="296.50" font-size="6.90" text-anchor="middle" fill="#2a2a2a" textLength="6.68" lengthAdjust="spacingAndGlyphs" stroke="#444" stroke-width="0.12">50</text>
<line x1="216.00" y1="284.70" x2="216.00" y2="287.50" stroke="#222" stroke-width="1.10"/>
<text x="216.00" y="296.50" font-size="6.90" text-anchor="middle" fill="#2a2a2a" textLength="6.68" lengthAdjust="spacingAndGlyphs" stroke="#444" stroke-width="0.12">60</text>
<line x1="240.20" y1="284.70" x2="240.20" y2="287.50" stroke="#222" stroke-width="1.10"/>
<text x="240.20" y="296.50" font-size="6.90" text-anchor="middle" fill="#2a2a2a" textLength="6.68" lengthAdjust="spacingAndGlyphs" stroke="#444" stroke-width="0.12">70</text>
<line x1="264.40" y1="284.70" x2="264.40" y2="287.50" stroke="#222" stroke-width="1.10"/>
<text x="264.40" y="296.50" font-size="6.90" text-anchor="middle" fill="#2a2a2a" textLength="6.68" lengthAdjust="spacingAndGlyphs" stroke="#444" stroke-width="0.12">80</text>
<text x="167.80" y="206.10" font-size="8.80" text-anchor="middle" fill="#3a3a3a" textLength="42.30" lengthAdjust="spacingAndGlyphs">Pneumonia</text>
<text x="167.30" y="308.70" font-size="9.00" text-anchor="middle" fill="#2a2a2a" textLength="74.60" lengthAdjust="spacingAndGlyphs" stroke="#444" stroke-width="0.18">Transferrin saturation (%)</text>
<text x="0" y="0" font-size="8.0" text-anchor="middle" fill="#3a3a3a" stroke="#333" stroke-width="0.12" textLength="63.4" lengthAdjust="spacingAndGlyphs" transform="translate(46.80,249.00) rotate(-90)">Hazard ratio (95% CI)</text>
<path d="M84.00,284.70 L84.00,301.00 L74.60,301.00 L74.60,312.80" fill="none" stroke="#444" stroke-width="1.20" stroke-linejoin="miter"/>
<path d="M72.20,312.40 L77.00,312.40 L74.60,318.20 Z" fill="#222"/>
<path d="M107.30,284.70 L107.30,301.00 L102.60,301.00 L102.60,312.80" fill="none" stroke="#444" stroke-width="1.20" stroke-linejoin="miter"/>
<path d="M100.20,312.40 L105.00,312.40 L102.60,318.20 Z" fill="#222"/>
<line x1="343.80" y1="212.30" x2="343.80" y2="284.70" stroke="#d08aa2" stroke-width="1.25"/>
<line x1="360.90" y1="212.30" x2="360.90" y2="284.70" stroke="#d08aa2" stroke-width="1.25"/>
<line x1="385.10" y1="212.30" x2="385.10" y2="284.70" stroke="#d08aa2" stroke-width="1.25"/>
<line x1="411.50" y1="212.30" x2="411.50" y2="284.70" stroke="#d08aa2" stroke-width="1.25"/>
<line x1="316.40" y1="266.30" x2="510.40" y2="266.30" stroke="#333" stroke-width="1.10" stroke-dasharray="2.2 2.13"/>
<path d="M327.1,214.7 C327.5,215.4 328.5,217.6 329.2,219.0 C329.9,220.3 330.6,221.7 331.3,223.1 C332.0,224.4 332.7,225.8 333.4,227.1 C334.1,228.4 334.8,229.7 335.5,230.9 C336.2,232.2 336.9,233.4 337.6,234.6 C338.3,235.8 339.1,236.9 339.8,238.0 C340.5,239.2 341.2,240.2 341.9,241.3 C342.6,242.3 343.3,243.3 344.0,244.3 C344.7,245.2 345.4,246.1 346.1,247.0 C346.8,247.8 347.5,248.6 348.2,249.4 C348.9,250.1 349.6,250.8 350.3,251.5 C351.0,252.1 351.7,252.7 352.4,253.2 C353.1,253.7 353.8,254.2 354.5,254.6 C355.2,255.0 355.9,255.4 356.6,255.8 C357.3,256.1 358.0,256.5 358.7,256.8 C359.4,257.1 360.1,257.4 360.8,257.8 C361.5,258.1 362.3,258.5 363.0,258.8 C363.7,259.2 364.4,259.6 365.1,260.1 C365.8,260.5 366.5,261.0 367.2,261.6 C367.9,262.1 368.6,262.8 369.3,263.3 C370.0,263.9 370.7,264.5 371.4,265.0 C372.1,265.5 372.8,265.9 373.5,266.4 C374.2,266.8 374.9,267.3 375.5,267.8 C376.2,268.3 376.9,269.0 377.6,269.5 C378.3,270.1 378.9,270.6 379.6,271.2 C380.3,271.7 381.0,272.2 381.7,272.7 C382.4,273.1 383.0,273.6 383.7,274.0 C384.4,274.4 385.1,274.8 385.8,275.2 C386.4,275.5 387.1,275.8 387.8,276.1 C388.5,276.3 389.2,276.5 389.8,276.7 C390.5,276.9 391.2,277.0 391.9,277.1 C392.6,277.1 393.3,277.1 393.9,277.1 C394.6,277.1 395.3,277.0 396.0,276.9 C396.7,276.8 397.3,276.6 398.0,276.4 C398.7,276.2 399.4,276.0 400.1,275.8 C400.7,275.5 401.4,275.2 402.1,274.9 C402.8,274.6 403.5,274.3 404.1,274.0 C404.8,273.7 405.5,273.3 406.2,272.9 C406.9,272.6 407.6,272.2 408.2,271.8 C408.9,271.5 409.6,271.1 410.3,270.7 C411.0,270.3 411.6,269.9 412.3,269.6 C413.0,269.2 413.7,268.8 414.4,268.5 C415.0,268.1 415.7,267.7 416.4,267.4 C417.1,267.0 417.8,266.7 418.5,266.3 C419.1,266.0 419.8,265.6 420.5,265.3 C421.2,264.9 421.9,264.6 422.5,264.3 C423.2,263.9 423.9,263.6 424.6,263.3 C425.3,262.9 425.9,262.6 426.6,262.3 C427.3,262.0 428.0,261.6 428.7,261.3 C429.3,261.0 430.0,260.7 430.7,260.4 C431.4,260.1 432.1,259.7 432.8,259.4 C433.4,259.1 434.1,258.8 434.8,258.5 C435.5,258.2 436.2,257.9 436.8,257.6 C437.5,257.3 438.2,257.0 438.9,256.7 C439.6,256.4 440.2,256.1 440.9,255.9 C441.6,255.6 442.3,255.3 443.0,255.0 C443.7,254.7 444.3,254.4 445.0,254.1 C445.7,253.8 446.4,253.6 447.1,253.3 C447.7,253.0 448.4,252.7 449.1,252.4 C449.8,252.2 450.5,251.9 451.1,251.6 C451.8,251.3 452.5,251.1 453.2,250.8 C453.9,250.5 454.6,250.2 455.2,249.9 C455.9,249.7 456.6,249.4 457.3,249.1 C458.0,248.8 458.6,248.6 459.3,248.3 C460.0,248.0 460.7,247.8 461.4,247.5 C462.0,247.2 462.7,246.9 463.4,246.7 C464.1,246.4 464.8,246.1 465.4,245.8 C466.1,245.6 466.8,245.3 467.5,245.0 C468.2,244.7 468.9,244.5 469.5,244.2 C470.2,243.9 470.9,243.6 471.6,243.3 C472.3,243.1 472.9,242.8 473.6,242.5 C474.3,242.2 475.0,241.9 475.7,241.7 C476.3,241.4 477.0,241.1 477.7,240.8 C478.4,240.5 479.1,240.2 479.8,239.9 C480.4,239.6 481.1,239.4 481.8,239.1 C482.5,238.8 483.2,238.5 483.8,238.2 C484.5,237.9 485.2,237.6 485.9,237.3 C486.6,237.0 487.2,236.7 487.9,236.4 C488.6,236.1 489.3,235.8 490.0,235.5 C490.6,235.1 491.3,234.8 492.0,234.5 C492.7,234.2 493.4,233.9 494.1,233.6 C494.7,233.2 495.4,232.9 496.1,232.6 C496.8,232.3 497.5,231.9 498.1,231.6 C498.8,231.3 499.5,230.9 500.2,230.6 C500.9,230.2 501.5,229.9 502.2,229.6 C502.9,229.2 503.6,228.9 504.3,228.5 C505.0,228.1 505.6,227.8 506.3,227.4 C507.0,227.1 507.7,226.7 508.4,226.3 C509.0,226.0 510.1,225.4 510.4,225.2" fill="none" stroke="#333" stroke-width="1.20" stroke-dasharray="5.0 3.0"/>
<path d="M317.4,268.3 C317.7,268.3 318.8,268.2 319.5,268.1 C320.2,268.0 320.9,267.9 321.6,267.8 C322.2,267.7 322.9,267.6 323.6,267.4 C324.3,267.3 325.0,267.1 325.7,267.0 C326.4,266.9 327.1,266.7 327.8,266.6 C328.5,266.5 329.2,266.3 329.9,266.2 C330.6,266.1 331.3,266.1 331.9,266.0 C332.6,266.0 333.3,265.9 334.0,265.9 C334.7,265.9 335.4,266.0 336.1,266.1 C336.8,266.1 337.5,266.3 338.2,266.4 C338.9,266.5 339.6,266.7 340.3,266.9 C340.9,267.1 341.6,267.3 342.3,267.5 C343.0,267.8 343.7,268.0 344.4,268.3 C345.1,268.5 345.8,268.8 346.5,269.0 C347.2,269.3 347.9,269.5 348.6,269.8 C349.3,270.0 350.0,270.3 350.6,270.5 C351.3,270.7 352.0,270.9 352.7,271.1 C353.4,271.3 354.1,271.5 354.8,271.6 C355.5,271.7 356.2,271.9 356.9,271.9 C357.6,272.0 358.3,272.0 359.0,272.0 C359.6,272.0 360.3,272.0 361.0,271.9 C361.7,271.8 362.4,271.7 363.1,271.5 C363.8,271.3 364.5,271.0 365.2,270.7 C365.9,270.4 366.6,270.1 367.3,269.7 C368.0,269.3 368.7,268.8 369.3,268.4 C370.0,268.0 370.7,267.5 371.4,267.1 C372.1,266.6 372.8,265.8 373.5,265.7 C374.2,265.6 374.9,266.4 375.6,266.5 C376.3,266.6 377.0,266.3 377.7,266.2 C378.4,266.0 379.1,265.8 379.8,265.7 C380.5,265.5 381.2,265.3 381.9,265.0 C382.6,264.8 383.3,264.6 384.0,264.3 C384.7,264.1 385.4,263.8 386.1,263.6 C386.8,263.3 387.5,263.0 388.2,262.8 C388.9,262.5 389.6,262.2 390.3,262.0 C391.0,261.7 391.7,261.4 392.4,261.2 C393.1,260.9 393.8,260.6 394.5,260.3 C395.2,260.0 395.9,259.8 396.6,259.5 C397.3,259.2 398.0,258.9 398.7,258.6 C399.4,258.3 400.1,258.0 400.8,257.7 C401.5,257.3 402.2,257.0 402.9,256.7 C403.6,256.4 404.3,256.1 405.0,255.7 C405.7,255.4 406.4,255.1 407.1,254.7 C407.8,254.4 408.5,254.0 409.2,253.7 C409.9,253.3 410.6,253.0 411.3,252.6 C412.0,252.2 412.7,251.8 413.4,251.5 C414.1,251.1 414.8,250.7 415.5,250.3 C416.2,249.9 416.9,249.5 417.6,249.1 C418.3,248.7 419.0,248.3 419.7,247.8 C420.4,247.4 421.1,247.0 421.8,246.5 C422.5,246.1 423.2,245.6 423.9,245.1 C424.6,244.7 425.3,244.2 426.0,243.7 C426.7,243.2 427.4,242.7 428.1,242.2 C428.8,241.7 429.5,241.2 430.2,240.7 C430.9,240.1 431.6,239.6 432.3,239.0 C433.0,238.5 433.7,237.9 434.4,237.3 C435.1,236.7 435.8,236.1 436.5,235.5 C437.2,234.9 437.9,234.3 438.6,233.7 C439.3,233.0 440.0,232.4 440.7,231.7 C441.4,231.1 442.1,230.4 442.8,229.7 C443.5,229.0 444.2,228.3 444.9,227.5 C445.6,226.8 446.3,226.1 447.0,225.3 C447.7,224.6 448.4,223.8 449.1,223.0 C449.8,222.2 450.5,221.4 451.2,220.5 C451.9,219.7 452.6,218.9 453.3,218.0 C454.0,217.1 455.0,215.8 455.4,215.4" fill="none" stroke="#333" stroke-width="1.20" stroke-dasharray="5.0 3.0"/>
<path d="M317.4,236.4 C317.7,236.6 318.8,237.3 319.5,237.8 C320.2,238.3 320.9,238.8 321.6,239.2 C322.2,239.7 322.9,240.3 323.6,240.8 C324.3,241.3 325.0,241.8 325.7,242.3 C326.4,242.9 327.1,243.4 327.8,243.9 C328.5,244.5 329.2,245.0 329.9,245.6 C330.6,246.1 331.3,246.6 331.9,247.2 C332.6,247.7 333.3,248.3 334.0,248.8 C334.7,249.4 335.4,249.9 336.1,250.5 C336.8,251.0 337.5,251.6 338.2,252.1 C338.9,252.6 339.6,253.2 340.3,253.7 C340.9,254.2 341.6,254.7 342.3,255.2 C343.0,255.8 343.7,256.3 344.4,256.7 C345.1,257.2 345.8,257.7 346.5,258.2 C347.2,258.6 347.9,259.1 348.6,259.5 C349.3,260.0 350.0,260.4 350.6,260.8 C351.3,261.2 352.0,261.6 352.7,262.0 C353.4,262.4 354.1,262.7 354.8,263.1 C355.5,263.4 356.2,263.7 356.9,264.0 C357.6,264.3 358.3,264.6 359.0,264.9 C359.6,265.1 360.3,265.4 361.0,265.6 C361.7,265.8 362.4,265.9 363.1,266.1 C363.8,266.2 364.5,266.4 365.2,266.5 C365.9,266.6 366.6,266.6 367.3,266.7 C368.0,266.7 368.7,266.7 369.3,266.7 C370.0,266.7 370.7,266.6 371.4,266.5 C372.1,266.4 372.8,266.1 373.5,266.1 C374.2,266.2 374.9,266.6 375.6,266.8 C376.3,267.1 377.0,267.5 377.6,267.8 C378.3,268.1 379.0,268.4 379.7,268.7 C380.4,268.9 381.1,269.1 381.8,269.3 C382.5,269.5 383.2,269.7 383.9,269.8 C384.6,270.0 385.2,270.1 385.9,270.2 C386.6,270.2 387.3,270.3 388.0,270.3 C388.7,270.4 389.4,270.4 390.1,270.3 C390.8,270.3 391.5,270.3 392.2,270.2 C392.8,270.1 393.5,270.0 394.2,269.9 C394.9,269.7 395.6,269.6 396.3,269.4 C397.0,269.2 397.7,269.0 398.4,268.8 C399.1,268.6 399.8,268.4 400.4,268.1 C401.1,267.8 401.8,267.6 402.5,267.3 C403.2,267.0 403.9,266.7 404.6,266.4 C405.3,266.0 406.0,265.7 406.7,265.4 C407.4,265.0 408.0,264.7 408.7,264.3 C409.4,264.0 410.1,263.6 410.8,263.2 C411.5,262.8 412.2,262.4 412.9,262.0 C413.6,261.7 414.3,261.3 415.0,260.9 C415.6,260.5 416.3,260.0 417.0,259.6 C417.7,259.2 418.4,258.8 419.1,258.4 C419.8,258.0 420.5,257.5 421.2,257.1 C421.9,256.7 422.6,256.2 423.2,255.8 C423.9,255.3 424.6,254.9 425.3,254.4 C426.0,254.0 426.7,253.5 427.4,253.1 C428.1,252.6 428.8,252.1 429.5,251.7 C430.1,251.2 430.8,250.7 431.5,250.3 C432.2,249.8 432.9,249.3 433.6,248.8 C434.3,248.4 435.0,247.9 435.7,247.4 C436.4,246.9 437.1,246.4 437.7,245.9 C438.4,245.4 439.1,244.9 439.8,244.4 C440.5,243.9 441.2,243.4 441.9,242.9 C442.6,242.4 443.3,241.9 444.0,241.4 C444.7,240.9 445.3,240.4 446.0,239.9 C446.7,239.4 447.4,238.9 448.1,238.4 C448.8,237.9 449.5,237.3 450.2,236.8 C450.9,236.3 451.6,235.8 452.3,235.3 C452.9,234.8 453.6,234.3 454.3,233.7 C455.0,233.2 455.7,232.7 456.4,232.2 C457.1,231.7 457.8,231.2 458.5,230.6 C459.2,230.1 459.9,229.6 460.5,229.1 C461.2,228.6 461.9,228.1 462.6,227.5 C463.3,227.0 464.0,226.5 464.7,226.0 C465.4,225.5 466.1,225.0 466.8,224.5 C467.5,223.9 468.1,223.4 468.8,222.9 C469.5,222.4 470.2,221.9 470.9,221.4 C471.6,220.9 472.3,220.4 473.0,219.9 C473.7,219.4 474.4,218.9 475.1,218.4 C475.7,217.9 476.4,217.4 477.1,216.9 C477.8,216.4 478.9,215.7 479.2,215.4" fill="none" stroke="#a6425f" stroke-width="1.20" stroke-linejoin="round"/>
<line x1="314.00" y1="211.90" x2="314.00" y2="285.30" stroke="#222" stroke-width="1.30"/>
<line x1="310.40" y1="214.20" x2="314.00" y2="214.20" stroke="#222" stroke-width="1.20"/>
<text x="308.00" y="216.55" font-size="6.80" text-anchor="end" fill="#3a3a3a" textLength="8.32" lengthAdjust="spacingAndGlyphs" stroke="#333" stroke-width="0.12">1.6</text>
<line x1="310.40" y1="231.50" x2="314.00" y2="231.50" stroke="#222" stroke-width="1.20"/>
<text x="308.00" y="233.85" font-size="6.80" text-anchor="end" fill="#3a3a3a" textLength="8.32" lengthAdjust="spacingAndGlyphs" stroke="#333" stroke-width="0.12">1.4</text>
<line x1="310.40" y1="248.80" x2="314.00" y2="248.80" stroke="#222" stroke-width="1.20"/>
<text x="308.00" y="251.15" font-size="6.80" text-anchor="end" fill="#3a3a3a" textLength="8.32" lengthAdjust="spacingAndGlyphs" stroke="#333" stroke-width="0.12">1.2</text>
<line x1="310.40" y1="266.20" x2="314.00" y2="266.20" stroke="#222" stroke-width="1.20"/>
<text x="308.00" y="268.55" font-size="6.80" text-anchor="end" fill="#3a3a3a" textLength="3.33" lengthAdjust="spacingAndGlyphs" stroke="#333" stroke-width="0.12">1</text>
<line x1="310.40" y1="283.50" x2="314.00" y2="283.50" stroke="#222" stroke-width="1.20"/>
<text x="308.00" y="285.85" font-size="6.80" text-anchor="end" fill="#3a3a3a" textLength="8.32" lengthAdjust="spacingAndGlyphs" stroke="#333" stroke-width="0.12">0.8</text>
<line x1="313.40" y1="284.70" x2="510.40" y2="284.70" stroke="#222" stroke-width="1.30"/>
<line x1="317.50" y1="284.70" x2="317.50" y2="287.50" stroke="#222" stroke-width="1.10"/>
<text x="317.50" y="296.50" font-size="6.90" text-anchor="middle" fill="#2a2a2a" textLength="3.34" lengthAdjust="spacingAndGlyphs" stroke="#444" stroke-width="0.12">0</text>
<line x1="341.70" y1="284.70" x2="341.70" y2="287.50" stroke="#222" stroke-width="1.10"/>
<text x="341.70" y="296.50" font-size="6.90" text-anchor="middle" fill="#2a2a2a" textLength="6.68" lengthAdjust="spacingAndGlyphs" stroke="#444" stroke-width="0.12">10</text>
<line x1="365.90" y1="284.70" x2="365.90" y2="287.50" stroke="#222" stroke-width="1.10"/>
<text x="365.90" y="296.50" font-size="6.90" text-anchor="middle" fill="#2a2a2a" textLength="6.68" lengthAdjust="spacingAndGlyphs" stroke="#444" stroke-width="0.12">20</text>
<line x1="390.10" y1="284.70" x2="390.10" y2="287.50" stroke="#222" stroke-width="1.10"/>
<text x="390.10" y="296.50" font-size="6.90" text-anchor="middle" fill="#2a2a2a" textLength="6.68" lengthAdjust="spacingAndGlyphs" stroke="#444" stroke-width="0.12">30</text>
<line x1="414.30" y1="284.70" x2="414.30" y2="287.50" stroke="#222" stroke-width="1.10"/>
<text x="414.30" y="296.50" font-size="6.90" text-anchor="middle" fill="#2a2a2a" textLength="6.68" lengthAdjust="spacingAndGlyphs" stroke="#444" stroke-width="0.12">40</text>
<line x1="438.50" y1="284.70" x2="438.50" y2="287.50" stroke="#222" stroke-width="1.10"/>
<text x="438.50" y="296.50" font-size="6.90" text-anchor="middle" fill="#2a2a2a" textLength="6.68" lengthAdjust="spacingAndGlyphs" stroke="#444" stroke-width="0.12">50</text>
<line x1="462.70" y1="284.70" x2="462.70" y2="287.50" stroke="#222" stroke-width="1.10"/>
<text x="462.70" y="296.50" font-size="6.90" text-anchor="middle" fill="#2a2a2a" textLength="6.68" lengthAdjust="spacingAndGlyphs" stroke="#444" stroke-width="0.12">60</text>
<line x1="486.90" y1="284.70" x2="486.90" y2="287.50" stroke="#222" stroke-width="1.10"/>
<text x="486.90" y="296.50" font-size="6.90" text-anchor="middle" fill="#2a2a2a" textLength="6.68" lengthAdjust="spacingAndGlyphs" stroke="#444" stroke-width="0.12">70</text>
<text x="412.10" y="206.10" font-size="8.80" text-anchor="middle" fill="#3a3a3a" textLength="23.80" lengthAdjust="spacingAndGlyphs">Sepsis</text>
<text x="411.60" y="308.70" font-size="9.00" text-anchor="middle" fill="#2a2a2a" textLength="74.20" lengthAdjust="spacingAndGlyphs" stroke="#444" stroke-width="0.18">Transferrin saturation (%)</text>
<path d="M327.50,284.70 L327.50,301.20 L320.00,301.20 L320.00,312.80" fill="none" stroke="#444" stroke-width="1.20" stroke-linejoin="miter"/>
<path d="M317.60,312.40 L322.40,312.40 L320.00,318.20 Z" fill="#222"/>
<path d="M353.70,284.70 L353.70,301.20 L347.50,301.20 L347.50,312.80" fill="none" stroke="#444" stroke-width="1.20" stroke-linejoin="miter"/>
<path d="M345.10,312.40 L349.90,312.40 L347.50,318.20 Z" fill="#222"/>
<line x1="75.35" y1="414.80" x2="75.35" y2="488.10" stroke="#d08aa2" stroke-width="1.25"/>
<line x1="88.10" y1="414.80" x2="88.10" y2="488.10" stroke="#d08aa2" stroke-width="1.25"/>
<line x1="132.20" y1="414.80" x2="132.20" y2="488.10" stroke="#d08aa2" stroke-width="1.25"/>
<line x1="198.50" y1="414.80" x2="198.50" y2="488.10" stroke="#d08aa2" stroke-width="1.25"/>
<line x1="68.80" y1="468.80" x2="214.50" y2="468.80" stroke="#333" stroke-width="1.10" stroke-dasharray="2.2 2.13"/>
<line x1="223.00" y1="468.80" x2="263.20" y2="468.80" stroke="#333" stroke-width="1.10" stroke-dasharray="2.2 2.13"/>
<path d="M70.3,446.7 C70.7,446.8 71.7,447.3 72.5,447.6 C73.2,447.9 73.9,448.0 74.6,448.2 C75.4,448.4 76.1,448.5 76.8,448.6 C77.5,448.7 78.3,448.7 79.0,448.8 C79.7,448.9 80.4,448.9 81.1,449.0 C81.9,449.0 82.6,449.1 83.3,449.2 C84.0,449.3 84.8,449.4 85.5,449.5 C86.2,449.7 86.9,449.8 87.6,450.0 C88.4,450.3 89.1,450.5 89.8,450.9 C90.5,451.2 91.3,451.6 92.0,452.1 C92.7,452.6 93.4,453.1 94.2,453.8 C94.9,454.4 95.6,455.2 96.3,456.0 C97.0,456.8 97.8,457.7 98.5,458.6 C99.2,459.5 99.9,460.5 100.7,461.5 C101.4,462.4 102.1,463.4 102.8,464.2 C103.5,465.1 104.3,466.0 105.0,466.7 C105.7,467.4 106.4,468.1 107.2,468.6 C107.9,469.1 108.6,469.5 109.3,469.7 C110.1,469.9 110.8,469.8 111.5,469.7 C112.2,469.6 112.9,469.4 113.5,469.1 C114.2,468.9 114.9,468.5 115.6,468.2 C116.3,467.9 116.9,467.6 117.6,467.3 C118.3,467.0 119.0,466.7 119.7,466.4 C120.3,466.0 121.0,465.7 121.7,465.4 C122.4,465.1 123.1,464.8 123.7,464.4 C124.4,464.1 125.1,463.8 125.8,463.5 C126.5,463.1 127.1,462.8 127.8,462.5 C128.5,462.2 129.2,461.9 129.9,461.5 C130.5,461.2 131.2,460.9 131.9,460.6 C132.6,460.3 133.3,460.0 133.9,459.7 C134.6,459.4 135.3,459.1 136.0,458.8 C136.7,458.5 137.3,458.2 138.0,457.9 C138.7,457.6 139.4,457.3 140.1,457.0 C140.7,456.8 141.4,456.5 142.1,456.2 C142.8,456.0 143.5,455.7 144.1,455.5 C144.8,455.2 145.5,455.0 146.2,454.8 C146.9,454.5 147.5,454.3 148.2,454.1 C148.9,453.9 149.6,453.6 150.3,453.4 C150.9,453.2 151.6,453.0 152.3,452.8 C153.0,452.6 153.7,452.4 154.3,452.3 C155.0,452.1 155.7,451.9 156.4,451.7 C157.1,451.6 157.7,451.4 158.4,451.2 C159.1,451.1 159.8,450.9 160.5,450.8 C161.1,450.6 161.8,450.5 162.5,450.3 C163.2,450.2 163.9,450.1 164.5,449.9 C165.2,449.8 165.9,449.7 166.6,449.6 C167.3,449.5 167.9,449.3 168.6,449.2 C169.3,449.1 170.0,449.0 170.7,448.9 C171.3,448.8 172.0,448.7 172.7,448.6 C173.4,448.6 174.1,448.5 174.7,448.4 C175.4,448.3 176.1,448.2 176.8,448.2 C177.5,448.1 178.1,448.0 178.8,448.0 C179.5,447.9 180.2,447.9 180.9,447.8 C181.5,447.7 182.2,447.7 182.9,447.7 C183.6,447.6 184.3,447.6 184.9,447.5 C185.6,447.5 186.3,447.5 187.0,447.4 C187.7,447.4 188.3,447.4 189.0,447.3 C189.7,447.3 190.4,447.3 191.1,447.3 C191.7,447.3 192.4,447.3 193.1,447.3 C193.8,447.2 194.5,447.2 195.1,447.2 C195.8,447.2 196.5,447.2 197.2,447.2 C197.9,447.2 198.5,447.2 199.2,447.3 C199.9,447.3 200.6,447.3 201.3,447.3 C201.9,447.3 202.6,447.3 203.3,447.3 C204.0,447.4 204.7,447.4 205.3,447.4 C206.0,447.4 206.7,447.5 207.4,447.5 C208.1,447.5 208.7,447.5 209.4,447.6 C210.1,447.6 210.8,447.6 211.5,447.7 C212.1,447.7 213.2,447.8 213.5,447.8" fill="none" stroke="#333" stroke-width="1.20" stroke-dasharray="5.0 3.0"/>
<path d="M70.3,479.3 C70.7,478.7 71.7,476.7 72.5,475.6 C73.2,474.5 73.9,473.6 74.6,472.7 C75.4,471.9 76.1,471.1 76.8,470.5 C77.5,469.9 78.3,469.3 79.0,468.9 C79.7,468.4 80.4,468.1 81.1,467.8 C81.9,467.5 82.6,467.3 83.3,467.1 C84.0,466.9 84.8,466.8 85.5,466.7 C86.2,466.6 86.9,466.6 87.6,466.6 C88.4,466.6 89.1,466.6 89.8,466.6 C90.5,466.6 91.3,466.6 92.0,466.7 C92.7,466.7 93.4,466.8 94.2,466.9 C94.9,467.0 95.6,467.1 96.3,467.2 C97.0,467.3 97.8,467.4 98.5,467.6 C99.2,467.7 99.9,467.9 100.7,468.0 C101.4,468.2 102.1,468.4 102.8,468.6 C103.5,468.8 104.3,469.0 105.0,469.2 C105.7,469.4 106.4,469.7 107.2,469.9 C107.9,470.2 108.6,470.4 109.3,470.7 C110.1,470.9 110.8,471.2 111.5,471.5 C112.2,471.7 112.9,472.0 113.5,472.1 C114.2,472.2 114.9,472.1 115.6,472.1 C116.3,472.1 116.9,472.0 117.6,472.0 C118.3,472.0 119.0,472.0 119.7,472.0 C120.3,472.0 121.0,472.0 121.7,471.9 C122.4,471.9 123.1,471.9 123.7,471.9 C124.4,471.9 125.1,471.9 125.8,471.8 C126.5,471.8 127.1,471.8 127.8,471.8 C128.5,471.8 129.2,471.7 129.9,471.7 C130.5,471.7 131.2,471.7 131.9,471.7 C132.6,471.6 133.3,471.6 133.9,471.6 C134.6,471.6 135.3,471.5 136.0,471.5 C136.7,471.5 137.3,471.5 138.0,471.4 C138.7,471.4 139.4,471.4 140.1,471.4 C140.7,471.4 141.4,471.3 142.1,471.3 C142.8,471.3 143.5,471.3 144.1,471.2 C144.8,471.2 145.5,471.2 146.2,471.1 C146.9,471.1 147.5,471.1 148.2,471.1 C148.9,471.0 149.6,471.0 150.3,471.0 C150.9,471.0 151.6,470.9 152.3,470.9 C153.0,470.9 153.7,470.9 154.3,470.8 C155.0,470.8 155.7,470.8 156.4,470.8 C157.1,470.7 157.7,470.7 158.4,470.7 C159.1,470.6 159.8,470.6 160.5,470.6 C161.1,470.6 161.8,470.5 162.5,470.5 C163.2,470.5 163.9,470.5 164.5,470.4 C165.2,470.4 165.9,470.4 166.6,470.4 C167.3,470.3 167.9,470.3 168.6,470.3 C169.3,470.3 170.0,470.2 170.7,470.2 C171.3,470.2 172.0,470.2 172.7,470.2 C173.4,470.1 174.1,470.1 174.7,470.1 C175.4,470.1 176.1,470.0 176.8,470.0 C177.5,470.0 178.1,470.0 178.8,470.0 C179.5,470.0 180.2,469.9 180.9,469.9 C181.5,469.9 182.2,469.9 182.9,469.9 C183.6,469.8 184.3,469.8 184.9,469.8 C185.6,469.8 186.3,469.8 187.0,469.8 C187.7,469.8 188.3,469.7 189.0,469.7 C189.7,469.7 190.4,469.7 191.1,469.7 C191.7,469.7 192.4,469.7 193.1,469.7 C193.8,469.7 194.5,469.7 195.1,469.6 C195.8,469.6 196.5,469.6 197.2,469.6 C197.9,469.6 198.5,469.6 199.2,469.6 C199.9,469.6 200.6,469.6 201.3,469.6 C201.9,469.6 202.6,469.6 203.3,469.6 C204.0,469.6 204.7,469.6 205.3,469.6 C206.0,469.6 206.7,469.6 207.4,469.6 C208.1,469.6 208.7,469.7 209.4,469.7 C210.1,469.7 210.8,469.7 211.5,469.7 C212.1,469.7 213.2,469.7 213.5,469.7" fill="none" stroke="#333" stroke-width="1.20" stroke-dasharray="5.0 3.0"/>
<path d="M223.0,434.8 C229.7,434.3 256.3,432.5 263.0,432.0" fill="none" stroke="#333" stroke-width="1.20" stroke-dasharray="5.0 3.0"/>
<path d="M223.0,472.8 C229.7,473.0 256.3,473.6 263.0,473.8" fill="none" stroke="#333" stroke-width="1.20" stroke-dasharray="5.0 3.0"/>
<path d="M70.3,464.8 C70.7,464.5 71.7,463.7 72.5,463.2 C73.2,462.7 73.9,462.3 74.6,461.9 C75.4,461.5 76.1,461.1 76.8,460.8 C77.5,460.4 78.3,460.1 79.0,459.9 C79.7,459.6 80.4,459.4 81.1,459.2 C81.9,459.1 82.6,458.9 83.3,458.8 C84.0,458.7 84.8,458.7 85.5,458.6 C86.2,458.6 86.9,458.6 87.6,458.7 C88.4,458.7 89.1,458.8 89.8,459.0 C90.5,459.1 91.3,459.3 92.0,459.5 C92.7,459.7 93.4,460.0 94.2,460.3 C94.9,460.6 95.6,460.9 96.3,461.3 C97.0,461.6 97.8,462.0 98.5,462.5 C99.2,462.9 99.9,463.4 100.7,463.8 C101.4,464.3 102.1,464.8 102.8,465.3 C103.5,465.8 104.3,466.3 105.0,466.8 C105.7,467.3 106.4,467.8 107.2,468.3 C107.9,468.8 108.6,469.3 109.3,469.8 C110.1,470.3 110.8,471.0 111.5,471.2 C112.2,471.3 112.9,470.9 113.5,470.7 C114.2,470.5 114.9,470.4 115.6,470.2 C116.3,470.0 116.9,469.9 117.6,469.7 C118.3,469.5 119.0,469.4 119.7,469.2 C120.3,469.1 121.0,468.9 121.7,468.7 C122.4,468.6 123.1,468.4 123.7,468.3 C124.4,468.1 125.1,467.9 125.8,467.8 C126.5,467.6 127.1,467.5 127.8,467.3 C128.5,467.2 129.2,467.0 129.9,466.9 C130.5,466.7 131.2,466.6 131.9,466.4 C132.6,466.3 133.3,466.1 133.9,466.0 C134.6,465.8 135.3,465.7 136.0,465.6 C136.7,465.4 137.3,465.3 138.0,465.1 C138.7,465.0 139.4,464.9 140.1,464.7 C140.7,464.6 141.4,464.5 142.1,464.3 C142.8,464.2 143.5,464.1 144.1,463.9 C144.8,463.8 145.5,463.7 146.2,463.6 C146.9,463.4 147.5,463.3 148.2,463.2 C148.9,463.1 149.6,462.9 150.3,462.8 C150.9,462.7 151.6,462.6 152.3,462.5 C153.0,462.4 153.7,462.3 154.3,462.1 C155.0,462.0 155.7,461.9 156.4,461.8 C157.1,461.7 157.7,461.6 158.4,461.5 C159.1,461.4 159.8,461.3 160.5,461.2 C161.1,461.1 161.8,461.0 162.5,460.9 C163.2,460.8 163.9,460.8 164.5,460.7 C165.2,460.6 165.9,460.5 166.6,460.4 C167.3,460.3 167.9,460.3 168.6,460.2 C169.3,460.1 170.0,460.0 170.7,460.0 C171.3,459.9 172.0,459.8 172.7,459.7 C173.4,459.7 174.1,459.6 174.7,459.6 C175.4,459.5 176.1,459.4 176.8,459.4 C177.5,459.3 178.1,459.3 178.8,459.2 C179.5,459.2 180.2,459.1 180.9,459.1 C181.5,459.0 182.2,459.0 182.9,458.9 C183.6,458.9 184.3,458.9 184.9,458.8 C185.6,458.8 186.3,458.8 187.0,458.7 C187.7,458.7 188.3,458.7 189.0,458.7 C189.7,458.6 190.4,458.6 191.1,458.6 C191.7,458.6 192.4,458.6 193.1,458.6 C193.8,458.5 194.5,458.5 195.1,458.5 C195.8,458.5 196.5,458.5 197.2,458.5 C197.9,458.5 198.5,458.5 199.2,458.6 C199.9,458.6 200.6,458.6 201.3,458.6 C201.9,458.6 202.6,458.6 203.3,458.7 C204.0,458.7 204.7,458.7 205.3,458.7 C206.0,458.8 206.7,458.8 207.4,458.8 C208.1,458.9 208.7,458.9 209.4,459.0 C210.1,459.0 210.8,459.0 211.5,459.1 C212.1,459.2 213.2,459.2 213.5,459.3" fill="none" stroke="#a6425f" stroke-width="1.20" stroke-linejoin="round"/>
<path d="M223.0,455.7 C229.7,455.6 256.3,455.0 263.0,454.9" fill="none" stroke="#a6425f" stroke-width="1.20" stroke-linejoin="round"/>
<line x1="67.10" y1="414.30" x2="67.10" y2="488.70" stroke="#222" stroke-width="1.30"/>
<line x1="63.50" y1="416.80" x2="67.10" y2="416.80" stroke="#222" stroke-width="1.20"/>
<text x="61.10" y="419.15" font-size="6.80" text-anchor="end" fill="#3a3a3a" textLength="8.32" lengthAdjust="spacingAndGlyphs" stroke="#333" stroke-width="0.12">1.6</text>
<line x1="63.50" y1="434.30" x2="67.10" y2="434.30" stroke="#222" stroke-width="1.20"/>
<text x="61.10" y="436.65" font-size="6.80" text-anchor="end" fill="#3a3a3a" textLength="8.32" lengthAdjust="spacingAndGlyphs" stroke="#333" stroke-width="0.12">1.4</text>
<line x1="63.50" y1="451.60" x2="67.10" y2="451.60" stroke="#222" stroke-width="1.20"/>
<text x="61.10" y="453.95" font-size="6.80" text-anchor="end" fill="#3a3a3a" textLength="8.32" lengthAdjust="spacingAndGlyphs" stroke="#333" stroke-width="0.12">1.2</text>
<line x1="63.50" y1="468.80" x2="67.10" y2="468.80" stroke="#222" stroke-width="1.20"/>
<text x="61.10" y="471.15" font-size="6.80" text-anchor="end" fill="#3a3a3a" textLength="3.33" lengthAdjust="spacingAndGlyphs" stroke="#333" stroke-width="0.12">1</text>
<line x1="63.50" y1="486.20" x2="67.10" y2="486.20" stroke="#222" stroke-width="1.20"/>
<text x="61.10" y="488.55" font-size="6.80" text-anchor="end" fill="#3a3a3a" textLength="8.32" lengthAdjust="spacingAndGlyphs" stroke="#333" stroke-width="0.12">0.8</text>
<line x1="66.50" y1="488.10" x2="216.00" y2="488.10" stroke="#222" stroke-width="1.30"/>
<line x1="222.00" y1="488.10" x2="263.00" y2="488.10" stroke="#222" stroke-width="1.30"/>
<line x1="69.90" y1="488.10" x2="69.90" y2="490.90" stroke="#222" stroke-width="1.10"/>
<text x="69.90" y="499.50" font-size="6.90" text-anchor="middle" fill="#2a2a2a" textLength="3.34" lengthAdjust="spacingAndGlyphs" stroke="#444" stroke-width="0.12">0</text>
<line x1="106.00" y1="488.10" x2="106.00" y2="490.90" stroke="#222" stroke-width="1.10"/>
<text x="106.00" y="499.50" font-size="6.90" text-anchor="middle" fill="#2a2a2a" textLength="10.01" lengthAdjust="spacingAndGlyphs" stroke="#444" stroke-width="0.12">100</text>
<line x1="142.00" y1="488.10" x2="142.00" y2="490.90" stroke="#222" stroke-width="1.10"/>
<text x="142.10" y="499.50" font-size="6.90" text-anchor="middle" fill="#2a2a2a" textLength="10.01" lengthAdjust="spacingAndGlyphs" stroke="#444" stroke-width="0.12">200</text>
<line x1="177.80" y1="488.10" x2="177.80" y2="490.90" stroke="#222" stroke-width="1.10"/>
<text x="177.80" y="499.50" font-size="6.90" text-anchor="middle" fill="#2a2a2a" textLength="10.01" lengthAdjust="spacingAndGlyphs" stroke="#444" stroke-width="0.12">300</text>
<line x1="213.80" y1="488.10" x2="213.80" y2="490.90" stroke="#222" stroke-width="1.10"/>
<text x="213.70" y="499.50" font-size="6.90" text-anchor="middle" fill="#2a2a2a" textLength="10.01" lengthAdjust="spacingAndGlyphs" stroke="#444" stroke-width="0.12">400</text>
<line x1="234.20" y1="488.10" x2="234.20" y2="490.90" stroke="#222" stroke-width="1.10"/>
<text x="231.60" y="499.50" font-size="6.90" text-anchor="middle" fill="#2a2a2a" textLength="15.02" lengthAdjust="spacingAndGlyphs" stroke="#444" stroke-width="0.12">1,250</text>
<line x1="252.00" y1="488.10" x2="252.00" y2="490.90" stroke="#222" stroke-width="1.10"/>
<text x="255.30" y="499.50" font-size="6.90" text-anchor="middle" fill="#2a2a2a" textLength="15.02" lengthAdjust="spacingAndGlyphs" stroke="#444" stroke-width="0.12">1,300</text>
<line x1="87.90" y1="488.10" x2="87.90" y2="490.70" stroke="#222" stroke-width="1.00"/>
<line x1="124.00" y1="488.10" x2="124.00" y2="490.70" stroke="#222" stroke-width="1.00"/>
<line x1="160.00" y1="488.10" x2="160.00" y2="490.70" stroke="#222" stroke-width="1.00"/>
<line x1="195.80" y1="488.10" x2="195.80" y2="490.70" stroke="#222" stroke-width="1.00"/>
<text x="141.90" y="408.50" font-size="8.80" text-anchor="middle" fill="#3a3a3a" textLength="42.50" lengthAdjust="spacingAndGlyphs">Pneumonia</text>
<text x="162.80" y="511.50" font-size="7.90" text-anchor="middle" fill="#2a2a2a" textLength="40.00" lengthAdjust="spacingAndGlyphs" stroke="#444" stroke-width="0.18">Ferritin (&#181;g/l)</text>
<text x="0" y="0" font-size="8.0" text-anchor="middle" fill="#3a3a3a" stroke="#333" stroke-width="0.12" textLength="63.4" lengthAdjust="spacingAndGlyphs" transform="translate(46.80,451.00) rotate(-90)">Hazard ratio (95% CI)</text>
<path d="M72.70,488.10 L72.70,521.70 L85.30,521.70 L85.30,525.00" fill="none" stroke="#444" stroke-width="1.20" stroke-linejoin="miter"/>
<path d="M82.90,524.70 L87.70,524.70 L85.30,530.50 Z" fill="#222"/>
<path d="M83.90,488.10 L83.90,516.50 L114.40,516.50 L114.40,525.00" fill="none" stroke="#444" stroke-width="1.20" stroke-linejoin="miter"/>
<path d="M112.00,524.70 L116.80,524.70 L114.40,530.50 Z" fill="#222"/>
<path d="M117.10,488.10 L117.10,516.50 L140.60,516.50 L140.60,525.00" fill="none" stroke="#444" stroke-width="1.20" stroke-linejoin="miter"/>
<path d="M138.20,524.70 L143.00,524.70 L140.60,530.50 Z" fill="#222"/>
<line x1="214.50" y1="490.40" x2="216.30" y2="485.80" stroke="#222" stroke-width="1.00"/>
<line x1="221.00" y1="490.40" x2="222.80" y2="485.80" stroke="#222" stroke-width="1.00"/>
<line x1="321.60" y1="414.80" x2="321.60" y2="488.10" stroke="#d08aa2" stroke-width="1.25"/>
<line x1="334.50" y1="414.80" x2="334.50" y2="488.10" stroke="#d08aa2" stroke-width="1.25"/>
<line x1="378.70" y1="414.80" x2="378.70" y2="488.10" stroke="#d08aa2" stroke-width="1.25"/>
<line x1="444.60" y1="414.80" x2="444.60" y2="488.10" stroke="#d08aa2" stroke-width="1.25"/>
<line x1="315.40" y1="468.80" x2="461.00" y2="468.80" stroke="#333" stroke-width="1.10" stroke-dasharray="2.2 2.13"/>
<line x1="468.80" y1="468.80" x2="505.40" y2="468.80" stroke="#333" stroke-width="1.10" stroke-dasharray="2.2 2.13"/>
<path d="M317.4,417.6 C317.8,418.9 318.8,422.5 319.5,425.0 C320.2,427.4 321.0,430.1 321.7,432.4 C322.4,434.7 323.1,436.9 323.8,438.8 C324.5,440.7 325.2,442.4 325.9,443.9 C326.6,445.4 327.3,446.7 328.1,447.9 C328.8,449.0 329.5,450.0 330.2,451.0 C330.9,451.9 331.6,452.7 332.3,453.4 C333.0,454.1 333.7,454.8 334.4,455.4 C335.2,456.0 335.9,456.6 336.6,457.2 C337.3,457.8 338.0,458.3 338.7,458.8 C339.4,459.4 340.1,459.9 340.8,460.4 C341.6,460.9 342.3,461.4 343.0,461.9 C343.7,462.4 344.4,462.9 345.1,463.5 C345.8,464.0 346.5,464.5 347.2,465.1 C347.9,465.7 348.7,466.2 349.4,466.8 C350.1,467.4 350.8,468.4 351.5,468.8 C352.2,469.2 352.9,469.1 353.5,469.3 C354.2,469.5 354.9,469.8 355.6,470.0 C356.3,470.3 356.9,470.5 357.6,470.8 C358.3,471.0 359.0,471.2 359.7,471.5 C360.3,471.7 361.0,471.9 361.7,472.2 C362.4,472.4 363.0,472.6 363.7,472.8 C364.4,473.1 365.1,473.3 365.8,473.5 C366.4,473.7 367.1,473.9 367.8,474.1 C368.5,474.3 369.2,474.5 369.8,474.7 C370.5,474.9 371.2,475.1 371.9,475.3 C372.6,475.5 373.2,475.7 373.9,475.9 C374.6,476.1 375.3,476.3 376.0,476.5 C376.6,476.6 377.3,476.8 378.0,477.0 C378.7,477.2 379.3,477.3 380.0,477.5 C380.7,477.7 381.4,477.9 382.1,478.0 C382.7,478.2 383.4,478.3 384.1,478.5 C384.8,478.6 385.5,478.8 386.1,479.0 C386.8,479.1 387.5,479.2 388.2,479.4 C388.9,479.5 389.5,479.7 390.2,479.8 C390.9,479.9 391.6,480.1 392.3,480.2 C392.9,480.3 393.6,480.5 394.3,480.6 C395.0,480.7 395.7,480.8 396.3,481.0 C397.0,481.1 397.7,481.2 398.4,481.3 C399.0,481.4 399.7,481.5 400.4,481.6 C401.1,481.7 401.8,481.8 402.4,481.9 C403.1,482.0 403.8,482.1 404.5,482.2 C405.2,482.3 405.8,482.4 406.5,482.5 C407.2,482.6 407.9,482.7 408.6,482.7 C409.2,482.8 409.9,482.9 410.6,483.0 C411.3,483.1 412.0,483.1 412.6,483.2 C413.3,483.3 414.0,483.3 414.7,483.4 C415.3,483.4 416.0,483.5 416.7,483.6 C417.4,483.6 418.1,483.7 418.7,483.7 C419.4,483.8 420.1,483.8 420.8,483.9 C421.5,483.9 422.1,483.9 422.8,484.0 C423.5,484.0 424.2,484.1 424.9,484.1 C425.5,484.1 426.2,484.1 426.9,484.2 C427.6,484.2 428.3,484.2 428.9,484.2 C429.6,484.3 430.3,484.3 431.0,484.3 C431.7,484.3 432.3,484.3 433.0,484.3 C433.7,484.3 434.4,484.3 435.0,484.3 C435.7,484.3 436.4,484.3 437.1,484.3 C437.8,484.3 438.4,484.3 439.1,484.3 C439.8,484.3 440.5,484.3 441.2,484.2 C441.8,484.2 442.5,484.2 443.2,484.2 C443.9,484.2 444.6,484.1 445.2,484.1 C445.9,484.1 446.6,484.0 447.3,484.0 C448.0,484.0 448.6,483.9 449.3,483.9 C450.0,483.9 450.7,483.8 451.3,483.8 C452.0,483.7 452.7,483.7 453.4,483.6 C454.1,483.6 454.7,483.5 455.4,483.4 C456.1,483.4 456.8,483.3 457.5,483.3 C458.1,483.2 459.2,483.1 459.5,483.1" fill="none" stroke="#333" stroke-width="1.20" stroke-dasharray="5.0 3.0"/>
<path d="M316.0,479.5 C316.4,479.2 317.5,478.3 318.2,477.9 C319.0,477.5 319.7,477.3 320.4,477.1 C321.2,476.9 321.9,476.9 322.7,477.0 C323.4,477.0 324.1,477.1 324.9,477.3 C325.6,477.5 326.4,477.8 327.1,478.0 C327.8,478.3 328.6,478.6 329.3,478.9 C330.1,479.3 330.8,479.6 331.5,479.9 C332.3,480.2 333.0,480.5 333.8,480.8 C334.5,481.0 335.2,481.2 336.0,481.4 C336.7,481.5 337.4,481.6 338.2,481.5 C338.9,481.5 339.7,481.4 340.4,481.2 C341.1,480.9 341.9,480.6 342.6,480.1 C343.4,479.7 344.1,479.1 344.8,478.4 C345.6,477.7 346.3,476.9 347.1,475.9 C347.8,475.0 348.5,473.9 349.3,472.6 C350.0,471.4 350.8,469.4 351.5,468.5 C352.2,467.6 352.9,467.6 353.5,467.3 C354.2,467.0 354.9,466.8 355.6,466.5 C356.3,466.3 356.9,466.1 357.6,465.9 C358.3,465.7 359.0,465.5 359.7,465.3 C360.3,465.1 361.0,465.0 361.7,464.8 C362.4,464.7 363.0,464.5 363.7,464.3 C364.4,464.2 365.1,464.0 365.8,463.9 C366.4,463.7 367.1,463.6 367.8,463.4 C368.5,463.2 369.2,463.0 369.8,462.9 C370.5,462.7 371.2,462.5 371.9,462.3 C372.6,462.1 373.2,461.9 373.9,461.7 C374.6,461.5 375.3,461.3 376.0,461.1 C376.6,460.9 377.3,460.7 378.0,460.5 C378.7,460.3 379.3,460.1 380.0,459.9 C380.7,459.7 381.4,459.5 382.1,459.3 C382.7,459.1 383.4,458.9 384.1,458.7 C384.8,458.5 385.5,458.3 386.1,458.1 C386.8,457.9 387.5,457.7 388.2,457.5 C388.9,457.3 389.5,457.1 390.2,456.9 C390.9,456.7 391.6,456.5 392.3,456.3 C392.9,456.1 393.6,455.9 394.3,455.7 C395.0,455.5 395.7,455.4 396.3,455.2 C397.0,455.0 397.7,454.8 398.4,454.7 C399.0,454.5 399.7,454.3 400.4,454.2 C401.1,454.0 401.8,453.9 402.4,453.7 C403.1,453.6 403.8,453.4 404.5,453.3 C405.2,453.1 405.8,453.0 406.5,452.9 C407.2,452.8 407.9,452.6 408.6,452.5 C409.2,452.4 409.9,452.3 410.6,452.2 C411.3,452.1 412.0,452.0 412.6,451.9 C413.3,451.8 414.0,451.7 414.7,451.6 C415.3,451.5 416.0,451.4 416.7,451.3 C417.4,451.2 418.1,451.1 418.7,451.1 C419.4,451.0 420.1,450.9 420.8,450.8 C421.5,450.8 422.1,450.7 422.8,450.6 C423.5,450.6 424.2,450.5 424.9,450.5 C425.5,450.4 426.2,450.4 426.9,450.3 C427.6,450.2 428.3,450.2 428.9,450.2 C429.6,450.1 430.3,450.1 431.0,450.0 C431.7,450.0 432.3,450.0 433.0,449.9 C433.7,449.9 434.4,449.9 435.0,449.8 C435.7,449.8 436.4,449.8 437.1,449.7 C437.8,449.7 438.4,449.7 439.1,449.7 C439.8,449.7 440.5,449.6 441.2,449.6 C441.8,449.6 442.5,449.6 443.2,449.6 C443.9,449.6 444.6,449.5 445.2,449.5 C445.9,449.5 446.6,449.5 447.3,449.5 C448.0,449.5 448.6,449.5 449.3,449.5 C450.0,449.5 450.7,449.5 451.3,449.5 C452.0,449.5 452.7,449.5 453.4,449.4 C454.1,449.4 454.7,449.4 455.4,449.4 C456.1,449.4 456.8,449.4 457.5,449.4 C458.1,449.4 459.2,449.4 459.5,449.4" fill="none" stroke="#333" stroke-width="1.20" stroke-dasharray="5.0 3.0"/>
<path d="M468.5,431.3 C474.6,430.9 499.2,429.3 505.3,428.9" fill="none" stroke="#333" stroke-width="1.20" stroke-dasharray="5.0 3.0"/>
<path d="M468.5,474.7 C474.6,474.5 499.2,473.9 505.3,473.7" fill="none" stroke="#333" stroke-width="1.20" stroke-dasharray="5.0 3.0"/>
<path d="M316.0,451.2 C316.4,451.7 317.5,453.0 318.2,453.9 C319.0,454.7 319.7,455.6 320.4,456.4 C321.2,457.2 321.9,458.0 322.7,458.8 C323.4,459.6 324.1,460.4 324.9,461.1 C325.6,461.8 326.4,462.5 327.1,463.2 C327.8,463.8 328.6,464.5 329.3,465.0 C330.1,465.6 330.8,466.2 331.5,466.7 C332.3,467.2 333.0,467.7 333.8,468.2 C334.5,468.6 335.2,469.0 336.0,469.3 C336.7,469.7 337.4,470.0 338.2,470.2 C338.9,470.5 339.7,470.7 340.4,470.8 C341.1,471.0 341.9,471.1 342.6,471.1 C343.4,471.1 344.1,471.1 344.8,471.0 C345.6,470.9 346.3,470.8 347.1,470.6 C347.8,470.4 348.5,470.1 349.3,469.8 C350.0,469.4 347.7,468.8 351.5,468.5 C355.3,468.3 353.9,468.5 372.0,468.5 C390.1,468.5 445.3,468.5 460.0,468.5" fill="none" stroke="#a6425f" stroke-width="1.20" stroke-linejoin="round"/>
<path d="M468.5,455.3 C474.6,455.1 499.2,454.1 505.3,453.8" fill="none" stroke="#a6425f" stroke-width="1.20" stroke-linejoin="round"/>
<line x1="313.70" y1="414.30" x2="313.70" y2="488.70" stroke="#222" stroke-width="1.30"/>
<line x1="310.10" y1="416.80" x2="313.70" y2="416.80" stroke="#222" stroke-width="1.20"/>
<text x="307.70" y="419.15" font-size="6.80" text-anchor="end" fill="#3a3a3a" textLength="8.32" lengthAdjust="spacingAndGlyphs" stroke="#333" stroke-width="0.12">1.6</text>
<line x1="310.10" y1="434.30" x2="313.70" y2="434.30" stroke="#222" stroke-width="1.20"/>
<text x="307.70" y="436.65" font-size="6.80" text-anchor="end" fill="#3a3a3a" textLength="8.32" lengthAdjust="spacingAndGlyphs" stroke="#333" stroke-width="0.12">1.4</text>
<line x1="310.10" y1="451.60" x2="313.70" y2="451.60" stroke="#222" stroke-width="1.20"/>
<text x="307.70" y="453.95" font-size="6.80" text-anchor="end" fill="#3a3a3a" textLength="8.32" lengthAdjust="spacingAndGlyphs" stroke="#333" stroke-width="0.12">1.2</text>
<line x1="310.10" y1="468.80" x2="313.70" y2="468.80" stroke="#222" stroke-width="1.20"/>
<text x="307.70" y="471.15" font-size="6.80" text-anchor="end" fill="#3a3a3a" textLength="3.33" lengthAdjust="spacingAndGlyphs" stroke="#333" stroke-width="0.12">1</text>
<line x1="310.10" y1="486.20" x2="313.70" y2="486.20" stroke="#222" stroke-width="1.20"/>
<text x="307.70" y="488.55" font-size="6.80" text-anchor="end" fill="#3a3a3a" textLength="8.32" lengthAdjust="spacingAndGlyphs" stroke="#333" stroke-width="0.12">0.8</text>
<line x1="313.10" y1="488.10" x2="461.20" y2="488.10" stroke="#222" stroke-width="1.30"/>
<line x1="467.70" y1="488.10" x2="505.30" y2="488.10" stroke="#222" stroke-width="1.30"/>
<line x1="316.50" y1="488.10" x2="316.50" y2="490.90" stroke="#222" stroke-width="1.10"/>
<text x="316.50" y="499.50" font-size="6.90" text-anchor="middle" fill="#2a2a2a" textLength="3.34" lengthAdjust="spacingAndGlyphs" stroke="#444" stroke-width="0.12">0</text>
<line x1="352.20" y1="488.10" x2="352.20" y2="490.90" stroke="#222" stroke-width="1.10"/>
<text x="352.20" y="499.50" font-size="6.90" text-anchor="middle" fill="#2a2a2a" textLength="10.01" lengthAdjust="spacingAndGlyphs" stroke="#444" stroke-width="0.12">100</text>
<line x1="388.00" y1="488.10" x2="388.00" y2="490.90" stroke="#222" stroke-width="1.10"/>
<text x="388.00" y="499.50" font-size="6.90" text-anchor="middle" fill="#2a2a2a" textLength="10.01" lengthAdjust="spacingAndGlyphs" stroke="#444" stroke-width="0.12">200</text>
<line x1="423.80" y1="488.10" x2="423.80" y2="490.90" stroke="#222" stroke-width="1.10"/>
<text x="423.80" y="499.50" font-size="6.90" text-anchor="middle" fill="#2a2a2a" textLength="10.01" lengthAdjust="spacingAndGlyphs" stroke="#444" stroke-width="0.12">300</text>
<line x1="459.60" y1="488.10" x2="459.60" y2="490.90" stroke="#222" stroke-width="1.10"/>
<text x="460.00" y="499.50" font-size="6.90" text-anchor="middle" fill="#2a2a2a" textLength="10.01" lengthAdjust="spacingAndGlyphs" stroke="#444" stroke-width="0.12">400</text>
<line x1="476.30" y1="488.10" x2="476.30" y2="490.90" stroke="#222" stroke-width="1.10"/>
<text x="477.10" y="499.50" font-size="6.90" text-anchor="middle" fill="#2a2a2a" textLength="15.02" lengthAdjust="spacingAndGlyphs" stroke="#444" stroke-width="0.12">1,250</text>
<line x1="494.40" y1="488.10" x2="494.40" y2="490.90" stroke="#222" stroke-width="1.10"/>
<text x="497.60" y="499.50" font-size="6.90" text-anchor="middle" fill="#2a2a2a" textLength="15.02" lengthAdjust="spacingAndGlyphs" stroke="#444" stroke-width="0.12">1,300</text>
<line x1="334.40" y1="488.10" x2="334.40" y2="490.70" stroke="#222" stroke-width="1.00"/>
<line x1="370.10" y1="488.10" x2="370.10" y2="490.70" stroke="#222" stroke-width="1.00"/>
<line x1="405.90" y1="488.10" x2="405.90" y2="490.70" stroke="#222" stroke-width="1.00"/>
<line x1="441.70" y1="488.10" x2="441.70" y2="490.70" stroke="#222" stroke-width="1.00"/>
<text x="388.00" y="408.50" font-size="8.80" text-anchor="middle" fill="#3a3a3a" textLength="23.60" lengthAdjust="spacingAndGlyphs">Sepsis</text>
<text x="406.90" y="511.50" font-size="7.90" text-anchor="middle" fill="#2a2a2a" textLength="40.40" lengthAdjust="spacingAndGlyphs" stroke="#444" stroke-width="0.18">Ferritin (&#181;g/l)</text>
<path d="M318.50,488.10 L318.50,516.50 L322.60,516.50 L322.60,525.00" fill="none" stroke="#444" stroke-width="1.20" stroke-linejoin="miter"/>
<path d="M320.20,524.70 L325.00,524.70 L322.60,530.50 Z" fill="#222"/>
<path d="M329.20,488.10 L329.20,519.20 L351.50,519.20 L351.50,525.00" fill="none" stroke="#444" stroke-width="1.20" stroke-linejoin="miter"/>
<path d="M349.10,524.70 L353.90,524.70 L351.50,530.50 Z" fill="#222"/>
<path d="M360.00,488.10 L360.00,516.50 L380.80,516.50 L380.80,525.00" fill="none" stroke="#444" stroke-width="1.20" stroke-linejoin="miter"/>
<path d="M378.40,524.70 L383.20,524.70 L380.80,530.50 Z" fill="#222"/>
<line x1="459.70" y1="490.40" x2="461.50" y2="485.80" stroke="#222" stroke-width="1.00"/>
<line x1="466.90" y1="490.40" x2="468.70" y2="485.80" stroke="#222" stroke-width="1.00"/>
<text x="7.00" y="131.20" font-size="6.20" text-anchor="start" fill="#3a3a3a" textLength="26.07" lengthAdjust="spacingAndGlyphs" stroke="#aaa" stroke-width="0.08">Percentiles</text>
<text x="7.00" y="139.80" font-size="6.20" text-anchor="start" fill="#3a3a3a" textLength="35.15" lengthAdjust="spacingAndGlyphs" stroke="#aaa" stroke-width="0.08">Individuals, no.</text>
<text x="7.00" y="148.10" font-size="6.20" text-anchor="start" fill="#3a3a3a" textLength="32.81" lengthAdjust="spacingAndGlyphs" stroke="#aaa" stroke-width="0.08">Infections, no.</text>
<text x="7.00" y="156.50" font-size="6.20" text-anchor="start" fill="#3a3a3a" textLength="28.70" lengthAdjust="spacingAndGlyphs" stroke="#aaa" stroke-width="0.08">Hazard ratio</text>
<text x="7.00" y="164.80" font-size="6.20" text-anchor="start" fill="#3a3a3a" textLength="20.79" lengthAdjust="spacingAndGlyphs" stroke="#aaa" stroke-width="0.08">(95% CI)</text>
<text x="7.00" y="173.30" font-size="6.20" text-anchor="start" fill="#3a3a3a" stroke="#aaa" stroke-width="0.08"><tspan font-style="italic">P</tspan></text>
<text x="83.30" y="131.20" font-size="6.20" text-anchor="middle" fill="#3a3a3a" textLength="16.79" lengthAdjust="spacingAndGlyphs" stroke="#aaa" stroke-width="0.08">0th-5th</text>
<text x="115.40" y="131.20" font-size="6.20" text-anchor="middle" fill="#3a3a3a" textLength="19.79" lengthAdjust="spacingAndGlyphs" stroke="#aaa" stroke-width="0.08">6th-25th</text>
<text x="142.00" y="131.20" font-size="6.20" text-anchor="middle" fill="#3a3a3a" textLength="22.79" lengthAdjust="spacingAndGlyphs" stroke="#aaa" stroke-width="0.08">26th-74th</text>
<text x="171.00" y="131.20" font-size="6.20" text-anchor="middle" fill="#3a3a3a" textLength="22.79" lengthAdjust="spacingAndGlyphs" stroke="#aaa" stroke-width="0.08">75th-94th</text>
<text x="230.90" y="131.20" font-size="6.20" text-anchor="middle" fill="#3a3a3a" textLength="25.79" lengthAdjust="spacingAndGlyphs" stroke="#aaa" stroke-width="0.08">95th-100th</text>
<text x="83.30" y="139.80" font-size="6.20" text-anchor="middle" fill="#3a3a3a" textLength="13.50" lengthAdjust="spacingAndGlyphs" stroke="#aaa" stroke-width="0.08">7,234</text>
<text x="115.40" y="139.80" font-size="6.20" text-anchor="middle" fill="#3a3a3a" textLength="16.50" lengthAdjust="spacingAndGlyphs" stroke="#aaa" stroke-width="0.08">29,815</text>
<text x="142.00" y="139.80" font-size="6.20" text-anchor="middle" fill="#3a3a3a" textLength="16.50" lengthAdjust="spacingAndGlyphs" stroke="#aaa" stroke-width="0.08">63,570</text>
<text x="171.00" y="139.80" font-size="6.20" text-anchor="middle" fill="#3a3a3a" textLength="16.50" lengthAdjust="spacingAndGlyphs" stroke="#aaa" stroke-width="0.08">28,859</text>
<text x="230.90" y="139.80" font-size="6.20" text-anchor="middle" fill="#3a3a3a" textLength="13.50" lengthAdjust="spacingAndGlyphs" stroke="#aaa" stroke-width="0.08">7,178</text>
<text x="83.30" y="148.10" font-size="6.20" text-anchor="middle" fill="#3a3a3a" textLength="9.00" lengthAdjust="spacingAndGlyphs" stroke="#aaa" stroke-width="0.08">561</text>
<text x="115.40" y="148.10" font-size="6.20" text-anchor="middle" fill="#3a3a3a" textLength="13.50" lengthAdjust="spacingAndGlyphs" stroke="#aaa" stroke-width="0.08">2,047</text>
<text x="142.00" y="148.10" font-size="6.20" text-anchor="middle" fill="#3a3a3a" textLength="13.50" lengthAdjust="spacingAndGlyphs" stroke="#aaa" stroke-width="0.08">3,948</text>
<text x="171.00" y="148.10" font-size="6.20" text-anchor="middle" fill="#3a3a3a" textLength="13.50" lengthAdjust="spacingAndGlyphs" stroke="#aaa" stroke-width="0.08">1,820</text>
<text x="230.90" y="148.10" font-size="6.20" text-anchor="middle" fill="#3a3a3a" textLength="9.00" lengthAdjust="spacingAndGlyphs" stroke="#aaa" stroke-width="0.08">514</text>
<text x="83.30" y="156.50" font-size="6.20" text-anchor="middle" fill="#3a3a3a" textLength="10.50" lengthAdjust="spacingAndGlyphs" stroke="#aaa" stroke-width="0.08">1.20</text>
<text x="115.40" y="156.50" font-size="6.20" text-anchor="middle" fill="#3a3a3a" textLength="10.50" lengthAdjust="spacingAndGlyphs" stroke="#aaa" stroke-width="0.08">1.07</text>
<text x="142.00" y="156.50" font-size="6.20" text-anchor="middle" fill="#3a3a3a" textLength="11.38" lengthAdjust="spacingAndGlyphs" stroke="#aaa" stroke-width="0.08">(ref.)</text>
<text x="171.00" y="156.50" font-size="6.20" text-anchor="middle" fill="#3a3a3a" textLength="10.50" lengthAdjust="spacingAndGlyphs" stroke="#aaa" stroke-width="0.08">1.01</text>
<text x="230.90" y="156.50" font-size="6.20" text-anchor="middle" fill="#3a3a3a" textLength="10.50" lengthAdjust="spacingAndGlyphs" stroke="#aaa" stroke-width="0.08">1.22</text>
<text x="83.30" y="164.80" font-size="6.20" text-anchor="middle" fill="#3a3a3a" textLength="26.38" lengthAdjust="spacingAndGlyphs" stroke="#aaa" stroke-width="0.08">(1.10-1.32)</text>
<text x="115.40" y="164.80" font-size="6.20" text-anchor="middle" fill="#3a3a3a" textLength="26.38" lengthAdjust="spacingAndGlyphs" stroke="#aaa" stroke-width="0.08">(1.01-1.13)</text>
<text x="142.00" y="164.80" font-size="6.20" text-anchor="middle" fill="#3a3a3a" textLength="11.38" lengthAdjust="spacingAndGlyphs" stroke="#aaa" stroke-width="0.08">(ref.)</text>
<text x="171.00" y="164.80" font-size="6.20" text-anchor="middle" fill="#3a3a3a" textLength="26.38" lengthAdjust="spacingAndGlyphs" stroke="#aaa" stroke-width="0.08">(0.96-1.07)</text>
<text x="230.90" y="164.80" font-size="6.20" text-anchor="middle" fill="#3a3a3a" textLength="25.98" lengthAdjust="spacingAndGlyphs" stroke="#aaa" stroke-width="0.08">(1.11-1.34)</text>
<text x="83.30" y="173.30" font-size="6.20" text-anchor="middle" fill="#3a3a3a" stroke="#aaa" stroke-width="0.08">8&#215;10<tspan dy="-2.4" font-size="4.6">&#8722;5</tspan></text>
<text x="115.40" y="173.30" font-size="6.20" text-anchor="middle" fill="#3a3a3a" textLength="7.50" lengthAdjust="spacingAndGlyphs" stroke="#aaa" stroke-width="0.08">.02</text>
<text x="142.00" y="173.30" font-size="6.20" text-anchor="middle" fill="#3a3a3a" textLength="11.38" lengthAdjust="spacingAndGlyphs" stroke="#aaa" stroke-width="0.08">(ref.)</text>
<text x="171.00" y="173.30" font-size="6.20" text-anchor="middle" fill="#3a3a3a" textLength="7.50" lengthAdjust="spacingAndGlyphs" stroke="#aaa" stroke-width="0.08">.61</text>
<text x="230.90" y="173.30" font-size="6.20" text-anchor="middle" fill="#3a3a3a" stroke="#aaa" stroke-width="0.08">2&#215;10<tspan dy="-2.4" font-size="4.6">&#8722;5</tspan></text>
<text x="330.50" y="131.20" font-size="6.20" text-anchor="middle" fill="#3a3a3a" textLength="16.79" lengthAdjust="spacingAndGlyphs" stroke="#aaa" stroke-width="0.08">0th-5th</text>
<text x="361.70" y="131.20" font-size="6.20" text-anchor="middle" fill="#3a3a3a" textLength="19.79" lengthAdjust="spacingAndGlyphs" stroke="#aaa" stroke-width="0.08">6th-25th</text>
<text x="389.20" y="131.20" font-size="6.20" text-anchor="middle" fill="#3a3a3a" textLength="22.79" lengthAdjust="spacingAndGlyphs" stroke="#aaa" stroke-width="0.08">26th-74th</text>
<text x="418.20" y="131.20" font-size="6.20" text-anchor="middle" fill="#3a3a3a" textLength="22.79" lengthAdjust="spacingAndGlyphs" stroke="#aaa" stroke-width="0.08">75th-94th</text>
<text x="475.60" y="131.20" font-size="6.20" text-anchor="middle" fill="#3a3a3a" textLength="25.79" lengthAdjust="spacingAndGlyphs" stroke="#aaa" stroke-width="0.08">95th-100th</text>
<text x="330.50" y="139.80" font-size="6.20" text-anchor="middle" fill="#3a3a3a" textLength="13.50" lengthAdjust="spacingAndGlyphs" stroke="#aaa" stroke-width="0.08">7,234</text>
<text x="361.70" y="139.80" font-size="6.20" text-anchor="middle" fill="#3a3a3a" textLength="16.50" lengthAdjust="spacingAndGlyphs" stroke="#aaa" stroke-width="0.08">29,815</text>
<text x="389.20" y="139.80" font-size="6.20" text-anchor="middle" fill="#3a3a3a" textLength="16.50" lengthAdjust="spacingAndGlyphs" stroke="#aaa" stroke-width="0.08">63,570</text>
<text x="418.20" y="139.80" font-size="6.20" text-anchor="middle" fill="#3a3a3a" textLength="16.50" lengthAdjust="spacingAndGlyphs" stroke="#aaa" stroke-width="0.08">28,859</text>
<text x="475.60" y="139.80" font-size="6.20" text-anchor="middle" fill="#3a3a3a" textLength="13.50" lengthAdjust="spacingAndGlyphs" stroke="#aaa" stroke-width="0.08">7,178</text>
<text x="330.50" y="148.10" font-size="6.20" text-anchor="middle" fill="#3a3a3a" textLength="9.00" lengthAdjust="spacingAndGlyphs" stroke="#aaa" stroke-width="0.08">186</text>
<text x="361.70" y="148.10" font-size="6.20" text-anchor="middle" fill="#3a3a3a" textLength="9.00" lengthAdjust="spacingAndGlyphs" stroke="#aaa" stroke-width="0.08">771</text>
<text x="389.20" y="148.10" font-size="6.20" text-anchor="middle" fill="#3a3a3a" textLength="13.50" lengthAdjust="spacingAndGlyphs" stroke="#aaa" stroke-width="0.08">1,532</text>
<text x="418.20" y="148.10" font-size="6.20" text-anchor="middle" fill="#3a3a3a" textLength="9.00" lengthAdjust="spacingAndGlyphs" stroke="#aaa" stroke-width="0.08">795</text>
<text x="475.60" y="148.10" font-size="6.20" text-anchor="middle" fill="#3a3a3a" textLength="9.00" lengthAdjust="spacingAndGlyphs" stroke="#aaa" stroke-width="0.08">246</text>
<text x="330.50" y="156.50" font-size="6.20" text-anchor="middle" fill="#3a3a3a" textLength="10.50" lengthAdjust="spacingAndGlyphs" stroke="#aaa" stroke-width="0.08">1.18</text>
<text x="361.70" y="156.50" font-size="6.20" text-anchor="middle" fill="#3a3a3a" textLength="10.50" lengthAdjust="spacingAndGlyphs" stroke="#aaa" stroke-width="0.08">1.10</text>
<text x="389.20" y="156.50" font-size="6.20" text-anchor="middle" fill="#3a3a3a" textLength="11.38" lengthAdjust="spacingAndGlyphs" stroke="#aaa" stroke-width="0.08">(ref.)</text>
<text x="418.20" y="156.50" font-size="6.20" text-anchor="middle" fill="#3a3a3a" textLength="10.50" lengthAdjust="spacingAndGlyphs" stroke="#aaa" stroke-width="0.08">1.06</text>
<text x="475.60" y="156.50" font-size="6.20" text-anchor="middle" fill="#3a3a3a" textLength="10.50" lengthAdjust="spacingAndGlyphs" stroke="#aaa" stroke-width="0.08">1.38</text>
<text x="330.50" y="164.80" font-size="6.20" text-anchor="middle" fill="#3a3a3a" textLength="26.38" lengthAdjust="spacingAndGlyphs" stroke="#aaa" stroke-width="0.08">(1.01-1.38)</text>
<text x="361.70" y="164.80" font-size="6.20" text-anchor="middle" fill="#3a3a3a" textLength="26.38" lengthAdjust="spacingAndGlyphs" stroke="#aaa" stroke-width="0.08">(1.01-1.21)</text>
<text x="389.20" y="164.80" font-size="6.20" text-anchor="middle" fill="#3a3a3a" textLength="11.38" lengthAdjust="spacingAndGlyphs" stroke="#aaa" stroke-width="0.08">(ref.)</text>
<text x="418.20" y="164.80" font-size="6.20" text-anchor="middle" fill="#3a3a3a" textLength="26.38" lengthAdjust="spacingAndGlyphs" stroke="#aaa" stroke-width="0.08">(0.98-1.16)</text>
<text x="475.60" y="164.80" font-size="6.20" text-anchor="middle" fill="#3a3a3a" textLength="26.38" lengthAdjust="spacingAndGlyphs" stroke="#aaa" stroke-width="0.08">(1.20-1.58)</text>
<text x="330.50" y="173.30" font-size="6.20" text-anchor="middle" fill="#3a3a3a" textLength="7.50" lengthAdjust="spacingAndGlyphs" stroke="#aaa" stroke-width="0.08">.04</text>
<text x="361.70" y="173.30" font-size="6.20" text-anchor="middle" fill="#3a3a3a" textLength="7.50" lengthAdjust="spacingAndGlyphs" stroke="#aaa" stroke-width="0.08">.03</text>
<text x="389.20" y="173.30" font-size="6.20" text-anchor="middle" fill="#3a3a3a" textLength="11.38" lengthAdjust="spacingAndGlyphs" stroke="#aaa" stroke-width="0.08">(ref.)</text>
<text x="418.20" y="173.30" font-size="6.20" text-anchor="middle" fill="#3a3a3a" textLength="7.50" lengthAdjust="spacingAndGlyphs" stroke="#aaa" stroke-width="0.08">.15</text>
<text x="475.60" y="173.30" font-size="6.20" text-anchor="middle" fill="#3a3a3a" stroke="#aaa" stroke-width="0.08">4&#215;10<tspan dy="-2.4" font-size="4.6">&#8722;6</tspan></text>
<text x="7.00" y="330.20" font-size="6.20" text-anchor="start" fill="#3a3a3a" textLength="26.07" lengthAdjust="spacingAndGlyphs" stroke="#aaa" stroke-width="0.08">Percentiles</text>
<text x="7.00" y="339.45" font-size="6.20" text-anchor="start" fill="#3a3a3a" textLength="35.15" lengthAdjust="spacingAndGlyphs" stroke="#aaa" stroke-width="0.08">Individuals, no.</text>
<text x="7.00" y="348.70" font-size="6.20" text-anchor="start" fill="#3a3a3a" textLength="32.81" lengthAdjust="spacingAndGlyphs" stroke="#aaa" stroke-width="0.08">Infections, no.</text>
<text x="7.00" y="357.95" font-size="6.20" text-anchor="start" fill="#3a3a3a" textLength="28.70" lengthAdjust="spacingAndGlyphs" stroke="#aaa" stroke-width="0.08">Hazard ratio</text>
<text x="7.00" y="367.20" font-size="6.20" text-anchor="start" fill="#3a3a3a" textLength="20.79" lengthAdjust="spacingAndGlyphs" stroke="#aaa" stroke-width="0.08">(95% CI)</text>
<text x="7.00" y="376.45" font-size="6.20" text-anchor="start" fill="#3a3a3a" stroke="#aaa" stroke-width="0.08"><tspan font-style="italic">P</tspan></text>
<text x="74.60" y="330.20" font-size="6.20" text-anchor="middle" fill="#3a3a3a" textLength="16.79" lengthAdjust="spacingAndGlyphs" stroke="#aaa" stroke-width="0.08">0th-5th</text>
<text x="102.90" y="330.20" font-size="6.20" text-anchor="middle" fill="#3a3a3a" textLength="19.79" lengthAdjust="spacingAndGlyphs" stroke="#aaa" stroke-width="0.08">6th-25th</text>
<text x="129.50" y="330.20" font-size="6.20" text-anchor="middle" fill="#3a3a3a" textLength="22.79" lengthAdjust="spacingAndGlyphs" stroke="#aaa" stroke-width="0.08">26th-74th</text>
<text x="156.30" y="330.20" font-size="6.20" text-anchor="middle" fill="#3a3a3a" textLength="22.79" lengthAdjust="spacingAndGlyphs" stroke="#aaa" stroke-width="0.08">75th-94th</text>
<text x="216.50" y="330.20" font-size="6.20" text-anchor="middle" fill="#3a3a3a" textLength="25.79" lengthAdjust="spacingAndGlyphs" stroke="#aaa" stroke-width="0.08">95th-100th</text>
<text x="74.60" y="339.45" font-size="6.20" text-anchor="middle" fill="#3a3a3a" textLength="13.50" lengthAdjust="spacingAndGlyphs" stroke="#aaa" stroke-width="0.08">7,401</text>
<text x="102.90" y="339.45" font-size="6.20" text-anchor="middle" fill="#3a3a3a" textLength="16.50" lengthAdjust="spacingAndGlyphs" stroke="#aaa" stroke-width="0.08">31,749</text>
<text x="129.50" y="339.45" font-size="6.20" text-anchor="middle" fill="#3a3a3a" textLength="16.50" lengthAdjust="spacingAndGlyphs" stroke="#aaa" stroke-width="0.08">58,997</text>
<text x="156.30" y="339.45" font-size="6.20" text-anchor="middle" fill="#3a3a3a" textLength="16.50" lengthAdjust="spacingAndGlyphs" stroke="#aaa" stroke-width="0.08">32,176</text>
<text x="216.50" y="339.45" font-size="6.20" text-anchor="middle" fill="#3a3a3a" textLength="13.50" lengthAdjust="spacingAndGlyphs" stroke="#aaa" stroke-width="0.08">6,276</text>
<text x="74.60" y="348.70" font-size="6.20" text-anchor="middle" fill="#3a3a3a" textLength="9.00" lengthAdjust="spacingAndGlyphs" stroke="#aaa" stroke-width="0.08">518</text>
<text x="102.90" y="348.70" font-size="6.20" text-anchor="middle" fill="#3a3a3a" textLength="13.50" lengthAdjust="spacingAndGlyphs" stroke="#aaa" stroke-width="0.08">2,028</text>
<text x="129.50" y="348.70" font-size="6.20" text-anchor="middle" fill="#3a3a3a" textLength="13.50" lengthAdjust="spacingAndGlyphs" stroke="#aaa" stroke-width="0.08">3,759</text>
<text x="156.30" y="348.70" font-size="6.20" text-anchor="middle" fill="#3a3a3a" textLength="13.50" lengthAdjust="spacingAndGlyphs" stroke="#aaa" stroke-width="0.08">2,100</text>
<text x="216.50" y="348.70" font-size="6.20" text-anchor="middle" fill="#3a3a3a" textLength="9.00" lengthAdjust="spacingAndGlyphs" stroke="#aaa" stroke-width="0.08">480</text>
<text x="74.60" y="357.95" font-size="6.20" text-anchor="middle" fill="#3a3a3a" textLength="10.50" lengthAdjust="spacingAndGlyphs" stroke="#aaa" stroke-width="0.08">1.20</text>
<text x="102.90" y="357.95" font-size="6.20" text-anchor="middle" fill="#3a3a3a" textLength="10.50" lengthAdjust="spacingAndGlyphs" stroke="#aaa" stroke-width="0.08">1.02</text>
<text x="129.50" y="357.95" font-size="6.20" text-anchor="middle" fill="#3a3a3a" textLength="11.38" lengthAdjust="spacingAndGlyphs" stroke="#aaa" stroke-width="0.08">(ref.)</text>
<text x="156.30" y="357.95" font-size="6.20" text-anchor="middle" fill="#3a3a3a" textLength="10.50" lengthAdjust="spacingAndGlyphs" stroke="#aaa" stroke-width="0.08">0.98</text>
<text x="216.50" y="357.95" font-size="6.20" text-anchor="middle" fill="#3a3a3a" textLength="10.10" lengthAdjust="spacingAndGlyphs" stroke="#aaa" stroke-width="0.08">1.11</text>
<text x="74.60" y="367.20" font-size="6.20" text-anchor="middle" fill="#3a3a3a" textLength="26.38" lengthAdjust="spacingAndGlyphs" stroke="#aaa" stroke-width="0.08">(1.09-1.32)</text>
<text x="102.90" y="367.20" font-size="6.20" text-anchor="middle" fill="#3a3a3a" textLength="26.38" lengthAdjust="spacingAndGlyphs" stroke="#aaa" stroke-width="0.08">(0.97-1.08)</text>
<text x="129.50" y="367.20" font-size="6.20" text-anchor="middle" fill="#3a3a3a" textLength="11.38" lengthAdjust="spacingAndGlyphs" stroke="#aaa" stroke-width="0.08">(ref.)</text>
<text x="156.30" y="367.20" font-size="6.20" text-anchor="middle" fill="#3a3a3a" textLength="26.38" lengthAdjust="spacingAndGlyphs" stroke="#aaa" stroke-width="0.08">(0.93-1.04)</text>
<text x="216.50" y="367.20" font-size="6.20" text-anchor="middle" fill="#3a3a3a" textLength="26.38" lengthAdjust="spacingAndGlyphs" stroke="#aaa" stroke-width="0.08">(1.01-1.22)</text>
<text x="74.60" y="376.45" font-size="6.20" text-anchor="middle" fill="#3a3a3a" textLength="13.50" lengthAdjust="spacingAndGlyphs" stroke="#aaa" stroke-width="0.08">.0002</text>
<text x="102.90" y="376.45" font-size="6.20" text-anchor="middle" fill="#3a3a3a" textLength="7.50" lengthAdjust="spacingAndGlyphs" stroke="#aaa" stroke-width="0.08">.50</text>
<text x="129.50" y="376.45" font-size="6.20" text-anchor="middle" fill="#3a3a3a" textLength="11.38" lengthAdjust="spacingAndGlyphs" stroke="#aaa" stroke-width="0.08">(ref.)</text>
<text x="156.30" y="376.45" font-size="6.20" text-anchor="middle" fill="#3a3a3a" textLength="7.50" lengthAdjust="spacingAndGlyphs" stroke="#aaa" stroke-width="0.08">.56</text>
<text x="216.50" y="376.45" font-size="6.20" text-anchor="middle" fill="#3a3a3a" textLength="7.50" lengthAdjust="spacingAndGlyphs" stroke="#aaa" stroke-width="0.08">.04</text>
<text x="320.00" y="330.20" font-size="6.20" text-anchor="middle" fill="#3a3a3a" textLength="16.79" lengthAdjust="spacingAndGlyphs" stroke="#aaa" stroke-width="0.08">0th-5th</text>
<text x="347.50" y="330.20" font-size="6.20" text-anchor="middle" fill="#3a3a3a" textLength="19.79" lengthAdjust="spacingAndGlyphs" stroke="#aaa" stroke-width="0.08">6th-25th</text>
<text x="375.00" y="330.20" font-size="6.20" text-anchor="middle" fill="#3a3a3a" textLength="22.79" lengthAdjust="spacingAndGlyphs" stroke="#aaa" stroke-width="0.08">26th-74th</text>
<text x="402.30" y="330.20" font-size="6.20" text-anchor="middle" fill="#3a3a3a" textLength="22.79" lengthAdjust="spacingAndGlyphs" stroke="#aaa" stroke-width="0.08">75th-94th</text>
<text x="452.50" y="330.20" font-size="6.20" text-anchor="middle" fill="#3a3a3a" textLength="25.79" lengthAdjust="spacingAndGlyphs" stroke="#aaa" stroke-width="0.08">95th-100th</text>
<text x="320.00" y="339.45" font-size="6.20" text-anchor="middle" fill="#3a3a3a" textLength="13.50" lengthAdjust="spacingAndGlyphs" stroke="#aaa" stroke-width="0.08">7,401</text>
<text x="347.50" y="339.45" font-size="6.20" text-anchor="middle" fill="#3a3a3a" textLength="16.50" lengthAdjust="spacingAndGlyphs" stroke="#aaa" stroke-width="0.08">31,749</text>
<text x="375.00" y="339.45" font-size="6.20" text-anchor="middle" fill="#3a3a3a" textLength="16.50" lengthAdjust="spacingAndGlyphs" stroke="#aaa" stroke-width="0.08">58,997</text>
<text x="402.30" y="339.45" font-size="6.20" text-anchor="middle" fill="#3a3a3a" textLength="16.50" lengthAdjust="spacingAndGlyphs" stroke="#aaa" stroke-width="0.08">32,176</text>
<text x="452.50" y="339.45" font-size="6.20" text-anchor="middle" fill="#3a3a3a" textLength="13.50" lengthAdjust="spacingAndGlyphs" stroke="#aaa" stroke-width="0.08">6,276</text>
<text x="320.00" y="348.70" font-size="6.20" text-anchor="middle" fill="#3a3a3a" textLength="9.00" lengthAdjust="spacingAndGlyphs" stroke="#aaa" stroke-width="0.08">162</text>
<text x="347.50" y="348.70" font-size="6.20" text-anchor="middle" fill="#3a3a3a" textLength="9.00" lengthAdjust="spacingAndGlyphs" stroke="#aaa" stroke-width="0.08">742</text>
<text x="375.00" y="348.70" font-size="6.20" text-anchor="middle" fill="#3a3a3a" textLength="13.50" lengthAdjust="spacingAndGlyphs" stroke="#aaa" stroke-width="0.08">1,504</text>
<text x="402.30" y="348.70" font-size="6.20" text-anchor="middle" fill="#3a3a3a" textLength="9.00" lengthAdjust="spacingAndGlyphs" stroke="#aaa" stroke-width="0.08">883</text>
<text x="452.50" y="348.70" font-size="6.20" text-anchor="middle" fill="#3a3a3a" textLength="9.00" lengthAdjust="spacingAndGlyphs" stroke="#aaa" stroke-width="0.08">239</text>
<text x="320.00" y="357.95" font-size="6.20" text-anchor="middle" fill="#3a3a3a" textLength="10.50" lengthAdjust="spacingAndGlyphs" stroke="#aaa" stroke-width="0.08">1.12</text>
<text x="347.50" y="357.95" font-size="6.20" text-anchor="middle" fill="#3a3a3a" textLength="10.50" lengthAdjust="spacingAndGlyphs" stroke="#aaa" stroke-width="0.08">1.01</text>
<text x="375.00" y="357.95" font-size="6.20" text-anchor="middle" fill="#3a3a3a" textLength="11.38" lengthAdjust="spacingAndGlyphs" stroke="#aaa" stroke-width="0.08">(ref.)</text>
<text x="402.30" y="357.95" font-size="6.20" text-anchor="middle" fill="#3a3a3a" textLength="10.50" lengthAdjust="spacingAndGlyphs" stroke="#aaa" stroke-width="0.08">0.97</text>
<text x="452.50" y="357.95" font-size="6.20" text-anchor="middle" fill="#3a3a3a" textLength="10.50" lengthAdjust="spacingAndGlyphs" stroke="#aaa" stroke-width="0.08">1.27</text>
<text x="320.00" y="367.20" font-size="6.20" text-anchor="middle" fill="#3a3a3a" textLength="26.38" lengthAdjust="spacingAndGlyphs" stroke="#aaa" stroke-width="0.08">(0.95-1.32)</text>
<text x="347.50" y="367.20" font-size="6.20" text-anchor="middle" fill="#3a3a3a" textLength="26.38" lengthAdjust="spacingAndGlyphs" stroke="#aaa" stroke-width="0.08">(0.92-1.10)</text>
<text x="375.00" y="367.20" font-size="6.20" text-anchor="middle" fill="#3a3a3a" textLength="11.38" lengthAdjust="spacingAndGlyphs" stroke="#aaa" stroke-width="0.08">(ref.)</text>
<text x="402.30" y="367.20" font-size="6.20" text-anchor="middle" fill="#3a3a3a" textLength="26.38" lengthAdjust="spacingAndGlyphs" stroke="#aaa" stroke-width="0.08">(0.89-1.06)</text>
<text x="452.50" y="367.20" font-size="6.20" text-anchor="middle" fill="#3a3a3a" textLength="25.98" lengthAdjust="spacingAndGlyphs" stroke="#aaa" stroke-width="0.08">(1.11-1.46)</text>
<text x="320.00" y="376.45" font-size="6.20" text-anchor="middle" fill="#3a3a3a" textLength="7.50" lengthAdjust="spacingAndGlyphs" stroke="#aaa" stroke-width="0.08">.20</text>
<text x="347.50" y="376.45" font-size="6.20" text-anchor="middle" fill="#3a3a3a" textLength="7.50" lengthAdjust="spacingAndGlyphs" stroke="#aaa" stroke-width="0.08">.84</text>
<text x="375.00" y="376.45" font-size="6.20" text-anchor="middle" fill="#3a3a3a" textLength="11.38" lengthAdjust="spacingAndGlyphs" stroke="#aaa" stroke-width="0.08">(ref.)</text>
<text x="402.30" y="376.45" font-size="6.20" text-anchor="middle" fill="#3a3a3a" textLength="7.50" lengthAdjust="spacingAndGlyphs" stroke="#aaa" stroke-width="0.08">.51</text>
<text x="452.50" y="376.45" font-size="6.20" text-anchor="middle" fill="#3a3a3a" textLength="13.50" lengthAdjust="spacingAndGlyphs" stroke="#aaa" stroke-width="0.08">.0007</text>
<text x="7.00" y="543.20" font-size="6.20" text-anchor="start" fill="#3a3a3a" textLength="26.07" lengthAdjust="spacingAndGlyphs" stroke="#aaa" stroke-width="0.08">Percentiles</text>
<text x="7.00" y="552.10" font-size="6.20" text-anchor="start" fill="#3a3a3a" textLength="35.15" lengthAdjust="spacingAndGlyphs" stroke="#aaa" stroke-width="0.08">Individuals, no.</text>
<text x="7.00" y="561.10" font-size="6.20" text-anchor="start" fill="#3a3a3a" textLength="32.81" lengthAdjust="spacingAndGlyphs" stroke="#aaa" stroke-width="0.08">Infections, no.</text>
<text x="7.00" y="570.50" font-size="6.20" text-anchor="start" fill="#3a3a3a" textLength="28.70" lengthAdjust="spacingAndGlyphs" stroke="#aaa" stroke-width="0.08">Hazard ratio</text>
<text x="7.00" y="579.70" font-size="6.20" text-anchor="start" fill="#3a3a3a" textLength="20.79" lengthAdjust="spacingAndGlyphs" stroke="#aaa" stroke-width="0.08">(95% CI)</text>
<text x="7.00" y="589.10" font-size="6.20" text-anchor="start" fill="#3a3a3a" stroke="#aaa" stroke-width="0.08"><tspan font-style="italic">P</tspan></text>
<text x="87.30" y="543.20" font-size="6.20" text-anchor="middle" fill="#3a3a3a" textLength="16.79" lengthAdjust="spacingAndGlyphs" stroke="#aaa" stroke-width="0.08">0th-5th</text>
<text x="114.90" y="543.20" font-size="6.20" text-anchor="middle" fill="#3a3a3a" textLength="19.79" lengthAdjust="spacingAndGlyphs" stroke="#aaa" stroke-width="0.08">6th-25th</text>
<text x="142.00" y="543.20" font-size="6.20" text-anchor="middle" fill="#3a3a3a" textLength="22.79" lengthAdjust="spacingAndGlyphs" stroke="#aaa" stroke-width="0.08">26th-74th</text>
<text x="180.40" y="543.20" font-size="6.20" text-anchor="middle" fill="#3a3a3a" textLength="22.79" lengthAdjust="spacingAndGlyphs" stroke="#aaa" stroke-width="0.08">75th-94th</text>
<text x="245.20" y="543.20" font-size="6.20" text-anchor="middle" fill="#3a3a3a" textLength="25.79" lengthAdjust="spacingAndGlyphs" stroke="#aaa" stroke-width="0.08">95th-100th</text>
<text x="87.30" y="552.10" font-size="6.20" text-anchor="middle" fill="#3a3a3a" textLength="13.50" lengthAdjust="spacingAndGlyphs" stroke="#aaa" stroke-width="0.08">2,095</text>
<text x="114.90" y="552.10" font-size="6.20" text-anchor="middle" fill="#3a3a3a" textLength="13.50" lengthAdjust="spacingAndGlyphs" stroke="#aaa" stroke-width="0.08">7,427</text>
<text x="142.00" y="552.10" font-size="6.20" text-anchor="middle" fill="#3a3a3a" textLength="16.50" lengthAdjust="spacingAndGlyphs" stroke="#aaa" stroke-width="0.08">18,812</text>
<text x="180.40" y="552.10" font-size="6.20" text-anchor="middle" fill="#3a3a3a" textLength="13.50" lengthAdjust="spacingAndGlyphs" stroke="#aaa" stroke-width="0.08">7,775</text>
<text x="245.20" y="552.10" font-size="6.20" text-anchor="middle" fill="#3a3a3a" textLength="13.10" lengthAdjust="spacingAndGlyphs" stroke="#aaa" stroke-width="0.08">1,911</text>
<text x="87.30" y="561.10" font-size="6.20" text-anchor="middle" fill="#3a3a3a" textLength="9.00" lengthAdjust="spacingAndGlyphs" stroke="#aaa" stroke-width="0.08">140</text>
<text x="114.90" y="561.10" font-size="6.20" text-anchor="middle" fill="#3a3a3a" textLength="9.00" lengthAdjust="spacingAndGlyphs" stroke="#aaa" stroke-width="0.08">610</text>
<text x="142.00" y="561.10" font-size="6.20" text-anchor="middle" fill="#3a3a3a" textLength="13.50" lengthAdjust="spacingAndGlyphs" stroke="#aaa" stroke-width="0.08">1,800</text>
<text x="180.40" y="561.10" font-size="6.20" text-anchor="middle" fill="#3a3a3a" textLength="9.00" lengthAdjust="spacingAndGlyphs" stroke="#aaa" stroke-width="0.08">748</text>
<text x="245.20" y="561.10" font-size="6.20" text-anchor="middle" fill="#3a3a3a" textLength="9.00" lengthAdjust="spacingAndGlyphs" stroke="#aaa" stroke-width="0.08">172</text>
<text x="87.30" y="570.50" font-size="6.20" text-anchor="middle" fill="#3a3a3a" textLength="10.50" lengthAdjust="spacingAndGlyphs" stroke="#aaa" stroke-width="0.08">1.10</text>
<text x="114.90" y="570.50" font-size="6.20" text-anchor="middle" fill="#3a3a3a" textLength="10.50" lengthAdjust="spacingAndGlyphs" stroke="#aaa" stroke-width="0.08">1.06</text>
<text x="142.00" y="570.50" font-size="6.20" text-anchor="middle" fill="#3a3a3a" textLength="11.38" lengthAdjust="spacingAndGlyphs" stroke="#aaa" stroke-width="0.08">(ref.)</text>
<text x="180.40" y="570.50" font-size="6.20" text-anchor="middle" fill="#3a3a3a" textLength="10.50" lengthAdjust="spacingAndGlyphs" stroke="#aaa" stroke-width="0.08">1.03</text>
<text x="245.20" y="570.50" font-size="6.20" text-anchor="middle" fill="#3a3a3a" textLength="10.50" lengthAdjust="spacingAndGlyphs" stroke="#aaa" stroke-width="0.08">1.05</text>
<text x="87.30" y="579.70" font-size="6.20" text-anchor="middle" fill="#3a3a3a" textLength="26.38" lengthAdjust="spacingAndGlyphs" stroke="#aaa" stroke-width="0.08">(0.92-1.31)</text>
<text x="114.90" y="579.70" font-size="6.20" text-anchor="middle" fill="#3a3a3a" textLength="26.38" lengthAdjust="spacingAndGlyphs" stroke="#aaa" stroke-width="0.08">(0.96-1.16)</text>
<text x="142.00" y="579.70" font-size="6.20" text-anchor="middle" fill="#3a3a3a" textLength="11.38" lengthAdjust="spacingAndGlyphs" stroke="#aaa" stroke-width="0.08">(ref.)</text>
<text x="180.40" y="579.70" font-size="6.20" text-anchor="middle" fill="#3a3a3a" textLength="26.38" lengthAdjust="spacingAndGlyphs" stroke="#aaa" stroke-width="0.08">(0.94-1.12)</text>
<text x="245.20" y="579.70" font-size="6.20" text-anchor="middle" fill="#3a3a3a" textLength="26.38" lengthAdjust="spacingAndGlyphs" stroke="#aaa" stroke-width="0.08">(0.90-1.23)</text>
<text x="87.30" y="589.10" font-size="6.20" text-anchor="middle" fill="#3a3a3a" textLength="7.50" lengthAdjust="spacingAndGlyphs" stroke="#aaa" stroke-width="0.08">.32</text>
<text x="114.90" y="589.10" font-size="6.20" text-anchor="middle" fill="#3a3a3a" textLength="7.50" lengthAdjust="spacingAndGlyphs" stroke="#aaa" stroke-width="0.08">.25</text>
<text x="142.00" y="589.10" font-size="6.20" text-anchor="middle" fill="#3a3a3a" textLength="11.38" lengthAdjust="spacingAndGlyphs" stroke="#aaa" stroke-width="0.08">(ref.)</text>
<text x="180.40" y="589.10" font-size="6.20" text-anchor="middle" fill="#3a3a3a" textLength="7.50" lengthAdjust="spacingAndGlyphs" stroke="#aaa" stroke-width="0.08">.52</text>
<text x="245.20" y="589.10" font-size="6.20" text-anchor="middle" fill="#3a3a3a" textLength="7.50" lengthAdjust="spacingAndGlyphs" stroke="#aaa" stroke-width="0.08">.55</text>
<text x="323.70" y="543.20" font-size="6.20" text-anchor="middle" fill="#3a3a3a" textLength="16.79" lengthAdjust="spacingAndGlyphs" stroke="#aaa" stroke-width="0.08">0th-5th</text>
<text x="351.90" y="543.20" font-size="6.20" text-anchor="middle" fill="#3a3a3a" textLength="19.79" lengthAdjust="spacingAndGlyphs" stroke="#aaa" stroke-width="0.08">6th-25th</text>
<text x="380.80" y="543.20" font-size="6.20" text-anchor="middle" fill="#3a3a3a" textLength="22.79" lengthAdjust="spacingAndGlyphs" stroke="#aaa" stroke-width="0.08">26th-74th</text>
<text x="423.70" y="543.20" font-size="6.20" text-anchor="middle" fill="#3a3a3a" textLength="22.79" lengthAdjust="spacingAndGlyphs" stroke="#aaa" stroke-width="0.08">75th-94th</text>
<text x="485.20" y="543.20" font-size="6.20" text-anchor="middle" fill="#3a3a3a" textLength="25.79" lengthAdjust="spacingAndGlyphs" stroke="#aaa" stroke-width="0.08">95th-100th</text>
<text x="323.70" y="552.10" font-size="6.20" text-anchor="middle" fill="#3a3a3a" textLength="13.50" lengthAdjust="spacingAndGlyphs" stroke="#aaa" stroke-width="0.08">2,095</text>
<text x="351.90" y="552.10" font-size="6.20" text-anchor="middle" fill="#3a3a3a" textLength="13.50" lengthAdjust="spacingAndGlyphs" stroke="#aaa" stroke-width="0.08">7,427</text>
<text x="380.80" y="552.10" font-size="6.20" text-anchor="middle" fill="#3a3a3a" textLength="16.50" lengthAdjust="spacingAndGlyphs" stroke="#aaa" stroke-width="0.08">18,812</text>
<text x="423.70" y="552.10" font-size="6.20" text-anchor="middle" fill="#3a3a3a" textLength="13.50" lengthAdjust="spacingAndGlyphs" stroke="#aaa" stroke-width="0.08">7,775</text>
<text x="485.20" y="552.10" font-size="6.20" text-anchor="middle" fill="#3a3a3a" textLength="13.10" lengthAdjust="spacingAndGlyphs" stroke="#aaa" stroke-width="0.08">1,911</text>
<text x="323.70" y="561.10" font-size="6.20" text-anchor="middle" fill="#3a3a3a" textLength="6.00" lengthAdjust="spacingAndGlyphs" stroke="#aaa" stroke-width="0.08">52</text>
<text x="351.90" y="561.10" font-size="6.20" text-anchor="middle" fill="#3a3a3a" textLength="9.00" lengthAdjust="spacingAndGlyphs" stroke="#aaa" stroke-width="0.08">169</text>
<text x="380.80" y="561.10" font-size="6.20" text-anchor="middle" fill="#3a3a3a" textLength="9.00" lengthAdjust="spacingAndGlyphs" stroke="#aaa" stroke-width="0.08">586</text>
<text x="423.70" y="561.10" font-size="6.20" text-anchor="middle" fill="#3a3a3a" textLength="9.00" lengthAdjust="spacingAndGlyphs" stroke="#aaa" stroke-width="0.08">257</text>
<text x="485.20" y="561.10" font-size="6.20" text-anchor="middle" fill="#3a3a3a" textLength="6.00" lengthAdjust="spacingAndGlyphs" stroke="#aaa" stroke-width="0.08">72</text>
<text x="323.70" y="570.50" font-size="6.20" text-anchor="middle" fill="#3a3a3a" textLength="10.50" lengthAdjust="spacingAndGlyphs" stroke="#aaa" stroke-width="0.08">1.33</text>
<text x="351.90" y="570.50" font-size="6.20" text-anchor="middle" fill="#3a3a3a" textLength="10.50" lengthAdjust="spacingAndGlyphs" stroke="#aaa" stroke-width="0.08">0.97</text>
<text x="380.80" y="570.50" font-size="6.20" text-anchor="middle" fill="#3a3a3a" textLength="11.38" lengthAdjust="spacingAndGlyphs" stroke="#aaa" stroke-width="0.08">(ref.)</text>
<text x="423.70" y="570.50" font-size="6.20" text-anchor="middle" fill="#3a3a3a" textLength="10.50" lengthAdjust="spacingAndGlyphs" stroke="#aaa" stroke-width="0.08">0.99</text>
<text x="485.20" y="570.50" font-size="6.20" text-anchor="middle" fill="#3a3a3a" textLength="10.50" lengthAdjust="spacingAndGlyphs" stroke="#aaa" stroke-width="0.08">1.19</text>
<text x="323.70" y="579.70" font-size="6.20" text-anchor="middle" fill="#3a3a3a" textLength="26.38" lengthAdjust="spacingAndGlyphs" stroke="#aaa" stroke-width="0.08">(0.98-1.79)</text>
<text x="351.90" y="579.70" font-size="6.20" text-anchor="middle" fill="#3a3a3a" textLength="26.38" lengthAdjust="spacingAndGlyphs" stroke="#aaa" stroke-width="0.08">(0.81-1.16)</text>
<text x="380.80" y="579.70" font-size="6.20" text-anchor="middle" fill="#3a3a3a" textLength="11.38" lengthAdjust="spacingAndGlyphs" stroke="#aaa" stroke-width="0.08">(ref.)</text>
<text x="423.70" y="579.70" font-size="6.20" text-anchor="middle" fill="#3a3a3a" textLength="26.38" lengthAdjust="spacingAndGlyphs" stroke="#aaa" stroke-width="0.08">(0.85-1.15)</text>
<text x="485.20" y="579.70" font-size="6.20" text-anchor="middle" fill="#3a3a3a" textLength="26.38" lengthAdjust="spacingAndGlyphs" stroke="#aaa" stroke-width="0.08">(0.92-1.52)</text>
<text x="323.70" y="589.10" font-size="6.20" text-anchor="middle" fill="#3a3a3a" textLength="7.50" lengthAdjust="spacingAndGlyphs" stroke="#aaa" stroke-width="0.08">.06</text>
<text x="351.90" y="589.10" font-size="6.20" text-anchor="middle" fill="#3a3a3a" textLength="7.50" lengthAdjust="spacingAndGlyphs" stroke="#aaa" stroke-width="0.08">.73</text>
<text x="380.80" y="589.10" font-size="6.20" text-anchor="middle" fill="#3a3a3a" textLength="11.38" lengthAdjust="spacingAndGlyphs" stroke="#aaa" stroke-width="0.08">(ref.)</text>
<text x="423.70" y="589.10" font-size="6.20" text-anchor="middle" fill="#3a3a3a" textLength="7.50" lengthAdjust="spacingAndGlyphs" stroke="#aaa" stroke-width="0.08">.90</text>
<text x="485.20" y="589.10" font-size="6.20" text-anchor="middle" fill="#3a3a3a" textLength="7.50" lengthAdjust="spacingAndGlyphs" stroke="#aaa" stroke-width="0.08">.18</text>
<rect x="0.5" y="0.5" width="519" height="596" fill="none" stroke="#5c5c5c" stroke-width="1"/>
</svg>
</body></html>
